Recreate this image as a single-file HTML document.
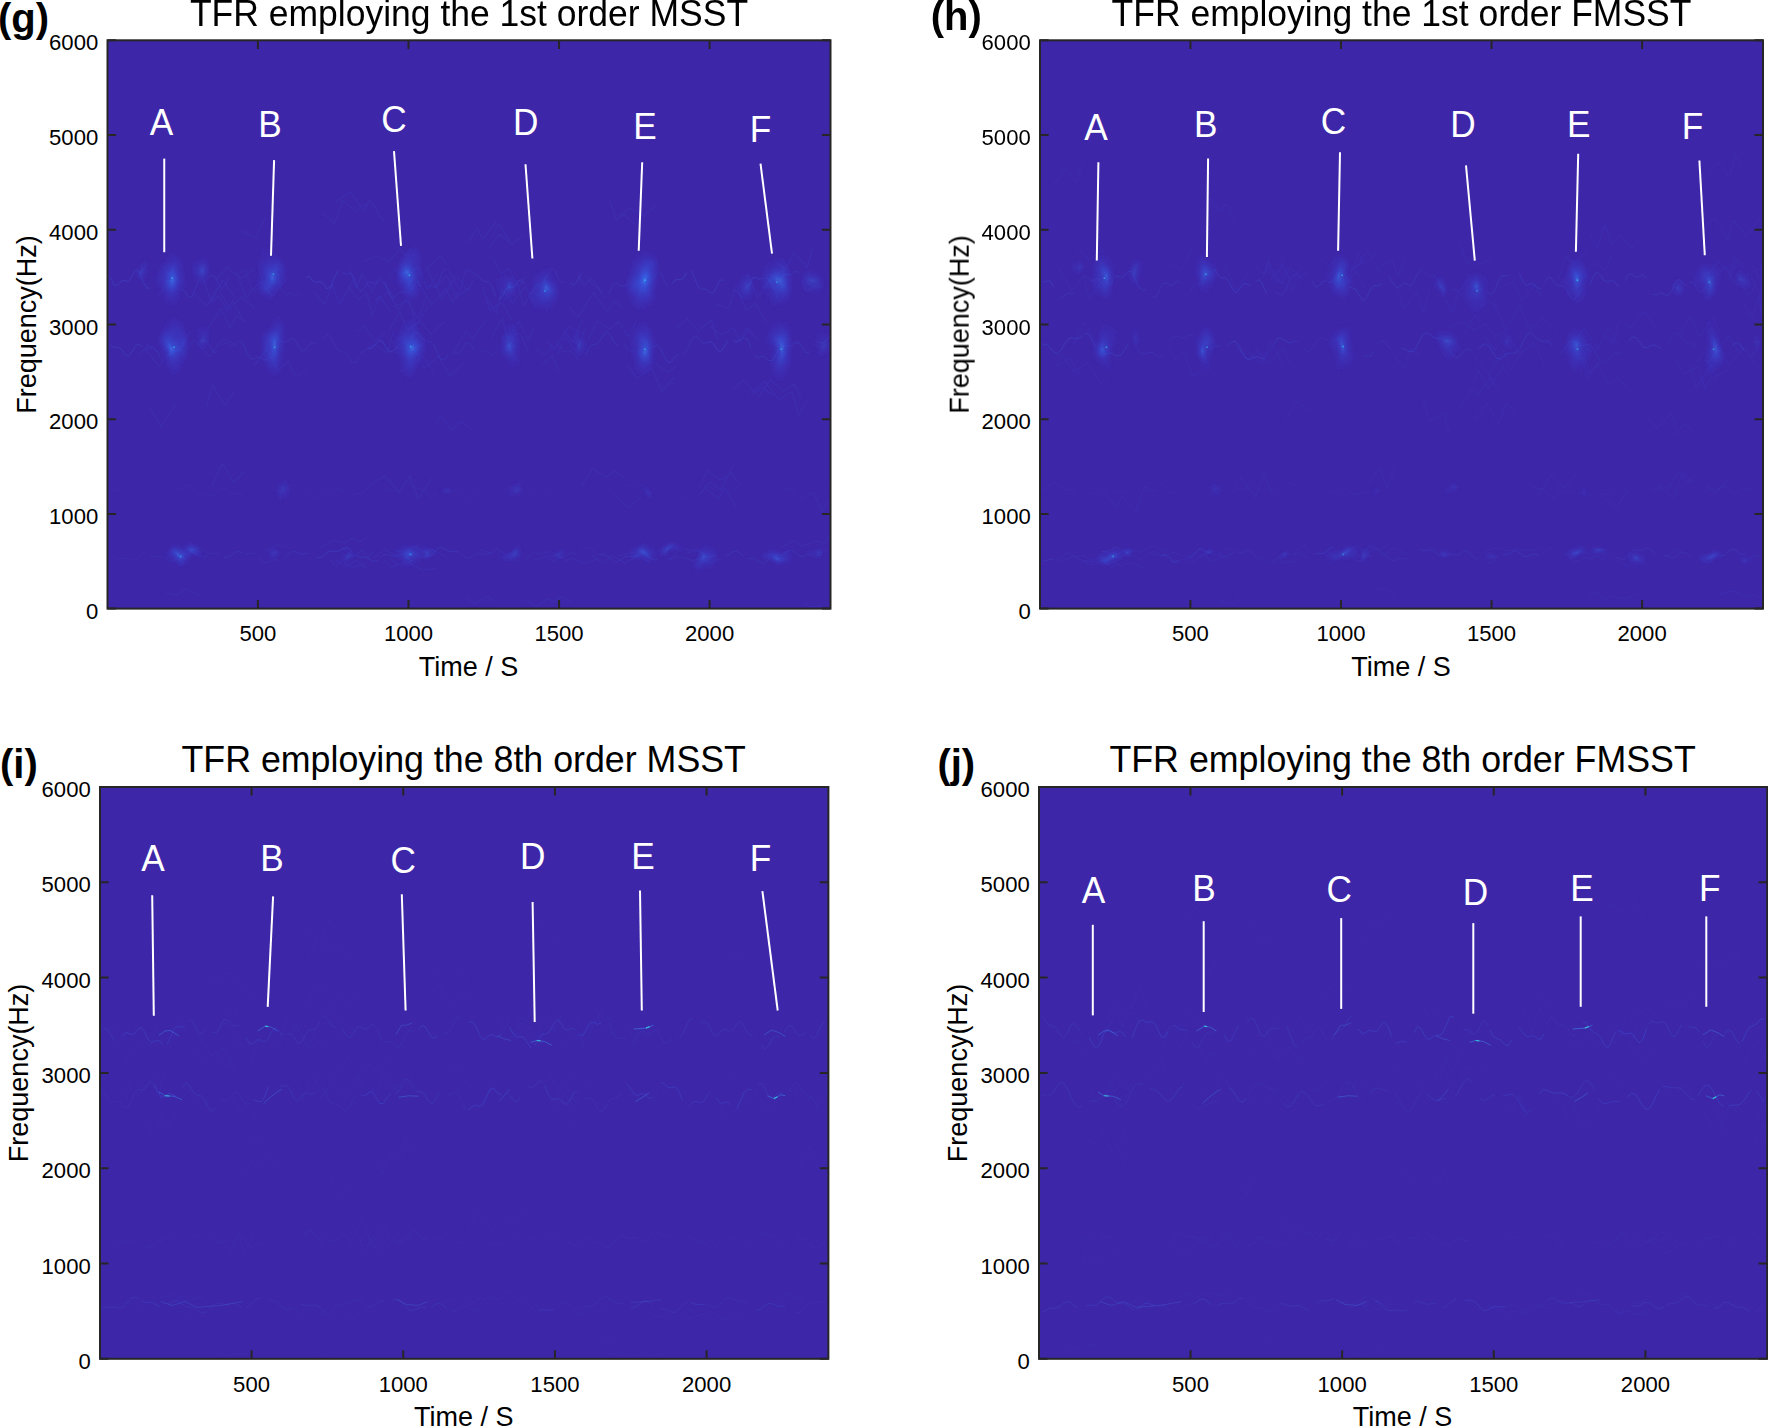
<!DOCTYPE html>
<html lang="en">
<head>
<meta charset="utf-8">
<title>TFR comparison</title>
<style>
html,body{margin:0;padding:0;background:#fff;}
body{width:1768px;height:1428px;overflow:hidden;position:relative;}
svg{position:absolute;left:0;top:0;display:block;}
text{font-family:"Liberation Sans", Arial, sans-serif;}
.tk{font-size:22.1px;fill:#000;}
.lb{font-size:27px;fill:#000;}
.tt{font-size:35.6px;fill:#000;}
.pn{font-size:40px;font-weight:bold;fill:#000;}
.lt{font-size:35.2px;fill:#fff;}
.wl{stroke:#fff;stroke-width:2;stroke-linecap:butt;}
.fr{fill:none;stroke:#262626;stroke-width:2.0;}
.tc{stroke:#262626;stroke-width:2.0;}
</style>
</head>
<body>
<svg width="1768" height="1428" viewBox="0 0 1768 1428">
<defs>
<radialGradient id="gb"><stop offset="0" stop-color="#3d80f3" stop-opacity="0.9"/><stop offset="0.18" stop-color="#3565ec" stop-opacity="0.75"/><stop offset="0.5" stop-color="#384fde" stop-opacity="0.45"/><stop offset="1" stop-color="#3e3ad0" stop-opacity="0"/></radialGradient>
<filter id="rough" x="-5%" y="-5%" width="110%" height="110%"><feTurbulence type="fractalNoise" baseFrequency="0.045 0.03" numOctaves="2" seed="7" result="n"/><feDisplacementMap in="SourceGraphic" in2="n" scale="16" xChannelSelector="R" yChannelSelector="G"/></filter>
</defs>

<g id="panel-g">
<rect x="107.5" y="40.3" width="723" height="568.3" fill="#3e26a8"/>
<clipPath id="cp-g"><rect x="107.5" y="40.3" width="723" height="568.3"/></clipPath>
<g clip-path="url(#cp-g)">
<path d="M434.9 284.2L442.1 299.6L453.5 278.9L459.9 290.3L466.2 269.3L478.3 275.8M578.1 275.8L584.1 285.0L591.8 278.8L601.7 292.8M568.4 306.2L578.2 317.2L593.3 292.6L606.8 311.7L615.2 301.7L623.4 308.7M715.0 303.2L728.6 308.9L736.0 285.9L746.0 310.2L755.2 303.1L766.7 323.5M349.7 269.1L356.4 288.2L362.0 273.7L372.1 292.3L379.3 277.0L394.2 297.2M394.0 306.4L409.0 300.4L416.2 324.9L427.5 308.3M427.2 268.4L440.6 255.4L446.7 265.0M375.4 300.2L388.8 291.9L398.0 309.5L406.4 299.5L417.7 318.9L424.6 301.3M389.3 276.7L395.1 269.0L405.5 279.5L418.0 266.4L427.5 289.2L437.7 273.7M203.2 278.9L211.3 302.0L218.7 296.0L226.7 310.1L232.7 301.1L241.7 317.6M746.5 274.1L757.6 297.3L767.6 284.8L776.0 291.1L787.2 284.0M210.5 302.7L223.0 280.0L235.5 299.0M363.4 262.1L377.9 255.8L388.2 261.8L400.0 248.9L405.5 256.0L411.8 248.1M348.0 284.8L358.4 300.2L366.8 292.8L372.5 316.7L379.0 296.2L390.7 311.1M215.2 280.9L226.9 266.9L240.9 278.7L252.8 269.3M763.1 287.5L770.5 279.3L779.3 301.9L785.1 295.0M193.6 292.9L207.0 305.8L217.4 287.4L229.7 309.0L241.2 297.3L254.6 308.2M313.1 291.2L324.7 304.6L332.0 284.3L340.0 304.8L353.0 280.5M493.9 259.2L501.2 273.9L508.3 268.0L518.3 287.3L525.4 276.4M483.2 287.1L489.5 310.4L501.9 302.3L511.6 319.8M517.6 283.6L524.0 305.7L537.1 282.5L543.7 292.8L552.9 285.4M775.9 261.6L784.7 268.9L794.3 252.8L807.2 267.7L812.9 246.7M236.2 272.6L246.2 297.3L260.3 281.8L272.2 295.8L286.1 279.1M425.6 265.5L436.1 287.2L446.9 275.6L456.0 297.3L470.1 287.7M485.9 296.6L496.2 313.7L501.9 289.7L512.3 302.9L525.4 286.6L535.6 305.4M407.4 293.2L417.6 281.1L431.7 304.5L446.0 288.9L452.4 302.5L458.2 291.9M138.7 357.2L147.2 344.8L158.6 352.4L171.1 344.4M253.9 366.1L267.3 348.7L277.9 370.8L288.4 360.9L295.9 376.9L307.0 368.6M360.4 353.3L374.4 343.9L387.3 353.3L393.7 330.8M389.0 330.8L399.7 311.8L407.0 329.4L420.2 321.9L431.1 334.3L444.4 321.8M357.5 332.1L363.9 325.7L374.7 341.1L385.6 332.7M710.5 326.7L721.5 334.9L733.5 327.8L739.8 340.9L749.3 328.5M563.9 330.3L573.3 342.8L582.3 319.6M676.5 328.2L687.4 318.9L698.4 331.0L711.2 320.0L717.7 339.8M208.0 328.7L220.9 308.6L230.2 327.9L236.3 315.8L246.2 321.7M556.8 355.2L565.5 337.0L576.4 352.8L585.6 328.2M654.7 362.1L667.2 372.6L676.5 366.0M183.3 355.1L194.1 339.8L208.8 356.2L223.8 338.4L237.0 345.6M145.4 350.3L159.1 366.2L170.3 352.4L180.5 363.5M490.3 338.5L502.1 318.7L507.8 339.0L518.9 321.3L528.2 340.0L534.2 328.3M627.2 363.9L636.8 378.6L651.6 368.3L662.0 391.7L674.4 377.2M542.3 364.9L552.2 355.3L558.1 371.0M588.0 340.9L596.9 321.1L610.2 329.4L618.4 321.3L628.5 336.5L636.9 321.2M546.7 339.5L554.0 349.9L568.8 326.9L582.7 333.3M415.5 362.6L421.7 355.3L433.6 371.4M453.5 352.3L466.1 330.8L472.2 338.7L485.4 321.2M414.9 350.1L423.9 368.1L438.9 356.3L449.6 376.1L463.9 362.3M735.3 343.4L746.2 328.5L758.2 339.9M264.9 551.3L277.3 544.7L285.5 547.6M373.8 557.6L384.7 549.6L399.1 557.6M330.0 559.4L336.2 566.8L341.8 560.4L352.9 567.6L365.4 563.2M533.5 560.1L547.4 556.3L553.0 561.7L563.7 555.9M685.0 553.2L698.0 550.7L704.2 557.5M564.0 561.5L571.8 558.0L584.6 563.5L597.4 558.9M591.2 554.8L603.5 562.9L612.8 555.4L624.7 563.1L637.9 555.5L651.8 563.9M618.0 555.9L632.2 552.3L639.2 558.5M390.0 558.5L400.0 565.3L408.4 562.3L422.6 570.3L435.3 568.2M335.5 560.0L346.6 566.0L356.5 560.6L366.2 568.5M779.5 548.6L793.5 540.5L802.2 546.2L816.8 541.0L824.4 543.3L828.5 536.0M479.9 549.7L491.7 553.3L497.2 548.1L506.2 555.4L518.5 549.4M342.1 547.7L353.6 556.2L361.6 550.7L368.5 557.8L373.9 550.4M171.9 552.7L185.9 559.2L192.2 552.3L202.8 557.6L208.4 554.4M668.7 559.6L679.2 556.5L692.6 560.6L701.0 558.1L709.4 563.2L721.7 558.8M393.5 550.4L405.3 552.5L414.3 545.8L422.0 551.5L431.9 549.5L446.8 556.7M319.7 547.2L334.4 540.2L345.1 542.7L352.4 538.2L358.8 542.3L366.9 537.2M385.2 560.7L391.8 566.9L399.0 563.6M613.6 494.3L628.6 508.2L641.4 496.1M212.2 486.2L222.3 463.0L233.7 482.5L245.0 470.8M813.8 493.8L822.5 511.8L828.5 499.0M699.8 493.9L710.5 481.6L720.7 489.9L733.0 465.6M707.1 489.2L718.6 498.6L724.8 488.3L735.8 507.2M370.1 484.4L384.9 476.1L399.0 492.1L409.8 475.8L417.8 498.7L432.8 477.6M699.4 487.4L707.2 470.9L720.6 480.0L731.3 472.9L737.0 482.0M581.2 486.3L592.6 468.5L605.4 477.2L614.8 470.9L625.3 478.8M206.8 405.8L212.7 385.3L225.1 405.9L234.4 390.8M750.6 395.4L764.6 380.9L778.7 399.7L792.1 391.8L798.6 415.2L807.2 399.7M758.1 396.9L770.6 379.9L783.3 391.3L794.4 384.3L801.0 398.5M150.3 408.2L161.0 426.3L175.5 404.0M732.7 388.9L743.5 380.1L755.2 393.7L761.8 386.7L772.2 394.8M435.4 424.2L441.1 415.3L450.7 429.5L461.3 421.2L473.4 431.2M336.4 201.5L350.3 191.9L363.9 210.7L369.9 199.1L383.6 221.8M609.4 198.2L616.6 220.5L622.5 212.8L634.9 224.5M620.2 217.0L629.6 208.1L643.3 216.0L655.4 205.3M323.3 213.4L334.4 223.4L342.8 200.2L354.6 211.1L366.2 203.7M488.8 248.0L499.4 234.3L510.3 243.1M240.8 231.0L255.8 237.3L265.6 217.4M468.6 242.6L477.1 227.8L482.9 239.0L496.3 221.3M491.2 238.1L498.9 224.0L511.8 244.6L524.8 234.5M525.6 599.8L536.8 606.5L547.7 598.8L554.9 601.8L560.5 596.5L570.1 601.4M164.9 592.8L176.3 595.2L185.9 588.6L199.2 595.5M467.5 597.1L474.5 603.7L487.9 596.5L493.9 601.2M803.1 602.8L809.9 606.7L822.5 605.6" fill="none" stroke="#3c5ee6" stroke-width="1.1" stroke-linejoin="round" opacity="0.15"/>
<polyline points="110.4,277.2 114.0,285.1 117.6,285.1 121.2,281.1 124.8,280.6 128.4,281.3 132.0,276.5 135.7,270.0 139.3,271.8 142.9,281.2 146.5,287.8 150.1,288.4" fill="none" stroke="#3b6ff0" stroke-width="1" stroke-linejoin="round" opacity="0.23"/>
<polyline points="157.9,294.9 161.5,293.2 165.2,284.7 168.8,279.7 172.4,283.4 176.0,288.7" fill="none" stroke="#3b6ff0" stroke-width="1" stroke-linejoin="round" opacity="0.14"/>
<polyline points="181.0,288.9 184.7,291.2 188.3,297.0 191.9,296.8 195.5,287.7 199.1,279.0" fill="none" stroke="#3b6ff0" stroke-width="1" stroke-linejoin="round" opacity="0.18"/>
<polyline points="207.4,278.4 211.0,275.4 214.6,276.2 218.2,283.7 221.8,288.9 225.5,284.7 229.1,277.4" fill="none" stroke="#3b6ff0" stroke-width="1" stroke-linejoin="round" opacity="0.15"/>
<polyline points="237.8,275.1 241.4,271.0 245.0,271.0 248.6,279.8 252.2,289.3 255.9,290.7 259.5,287.7 263.1,288.1 266.7,289.4" fill="none" stroke="#3b6ff0" stroke-width="1" stroke-linejoin="round" opacity="0.10"/>
<polyline points="271.3,283.1 274.9,278.1 278.5,282.2 282.1,291.1 285.7,294.8 289.3,293.3 292.9,294.1 296.6,296.3 300.2,291.9" fill="none" stroke="#3b6ff0" stroke-width="1" stroke-linejoin="round" opacity="0.10"/>
<polyline points="305.5,277.6 309.1,276.3 312.7,281.0 316.3,282.6 319.9,281.2 323.5,283.7 327.1,288.8 330.7,287.1 334.4,277.6 338.0,270.8" fill="none" stroke="#3b6ff0" stroke-width="1" stroke-linejoin="round" opacity="0.25"/>
<polyline points="342.9,272.9 346.5,274.0 350.1,273.0 353.7,277.3 357.3,286.9 360.9,291.8 364.5,287.4 368.2,282.1 371.8,282.4 375.4,283.5 379.0,280.4" fill="none" stroke="#3b6ff0" stroke-width="1" stroke-linejoin="round" opacity="0.18"/>
<polyline points="384.6,282.2 388.2,292.3 391.8,298.6 395.4,296.3 399.0,292.4 402.6,292.2 406.2,290.3 409.9,282.5 413.5,276.5 417.1,279.8 420.7,287.2" fill="none" stroke="#3b6ff0" stroke-width="1" stroke-linejoin="round" opacity="0.16"/>
<polyline points="427.9,286.1 431.5,286.1 435.1,287.4 438.7,282.1 442.3,272.0 445.9,267.7" fill="none" stroke="#3b6ff0" stroke-width="1" stroke-linejoin="round" opacity="0.16"/>
<polyline points="447.8,269.3 451.4,275.3 455.0,277.8 458.6,278.1 462.2,282.8 465.9,289.1 469.5,287.8 473.1,279.7" fill="none" stroke="#3b6ff0" stroke-width="1" stroke-linejoin="round" opacity="0.12"/>
<polyline points="477.9,275.8 481.5,280.0 485.1,281.9 488.8,281.9 492.4,287.2 496.0,296.7" fill="none" stroke="#3b6ff0" stroke-width="1" stroke-linejoin="round" opacity="0.18"/>
<polyline points="498.7,300.1 502.4,295.8 506.0,288.8 509.6,287.1 513.2,287.2 516.8,283.1 520.4,279.5 524.0,284.1" fill="none" stroke="#3b6ff0" stroke-width="1" stroke-linejoin="round" opacity="0.27"/>
<polyline points="529.4,294.5 533.0,291.8 536.6,285.9 540.2,284.0 543.8,282.4 547.4,275.3 551.0,268.3 554.7,270.4 558.3,278.7 561.9,282.9 565.5,281.5" fill="none" stroke="#3b6ff0" stroke-width="1" stroke-linejoin="round" opacity="0.13"/>
<polyline points="570.3,283.1 573.9,285.5 577.5,281.0 581.1,272.8" fill="none" stroke="#3b6ff0" stroke-width="1" stroke-linejoin="round" opacity="0.22"/>
<polyline points="587.2,276.2 590.8,283.3 594.5,285.5 598.1,287.4 601.7,293.8 605.3,298.4" fill="none" stroke="#3b6ff0" stroke-width="1" stroke-linejoin="round" opacity="0.10"/>
<polyline points="608.9,293.7 612.5,284.9 616.1,282.4 619.8,285.5 623.4,286.2 627.0,284.7" fill="none" stroke="#3b6ff0" stroke-width="1" stroke-linejoin="round" opacity="0.16"/>
<polyline points="635.8,297.6 639.4,294.4 643.0,285.3 646.7,280.3 650.3,279.7 653.9,276.5 657.5,271.5 661.1,273.2 664.7,281.9 668.3,287.1" fill="none" stroke="#3b6ff0" stroke-width="1" stroke-linejoin="round" opacity="0.14"/>
<polyline points="672.1,283.6 675.7,279.5 679.3,279.7 683.0,278.7 686.6,272.7" fill="none" stroke="#3b6ff0" stroke-width="1" stroke-linejoin="round" opacity="0.26"/>
<polyline points="691.5,270.4 695.1,279.3 698.7,287.7 702.3,289.1 705.9,288.9 709.6,292.3 713.2,293.4 716.8,287.0 720.4,279.7 724.0,280.9" fill="none" stroke="#3b6ff0" stroke-width="1" stroke-linejoin="round" opacity="0.22"/>
<polyline points="733.4,290.5 737.0,291.4 740.6,296.3 744.3,297.4" fill="none" stroke="#3b6ff0" stroke-width="1" stroke-linejoin="round" opacity="0.15"/>
<polyline points="749.0,285.9 752.6,277.7 756.2,277.6 759.8,279.4 763.4,277.5" fill="none" stroke="#3b6ff0" stroke-width="1" stroke-linejoin="round" opacity="0.25"/>
<polyline points="766.0,276.6 769.6,281.0 773.2,288.2 776.8,287.8 780.4,279.9 784.0,274.2 787.6,274.6 791.3,274.2 794.9,270.9 798.5,272.3" fill="none" stroke="#3b6ff0" stroke-width="1" stroke-linejoin="round" opacity="0.19"/>
<polyline points="801.6,280.3 805.2,289.7 808.9,290.8 812.5,286.9 816.1,286.3 819.7,287.6 823.3,284.0" fill="none" stroke="#3b6ff0" stroke-width="1" stroke-linejoin="round" opacity="0.14"/>
<polyline points="110.4,345.0 114.0,347.5 117.6,347.0 121.2,349.2 124.8,354.4 128.4,356.4 132.0,351.8 135.7,345.4 139.3,344.0 142.9,347.3" fill="none" stroke="#3b6ff0" stroke-width="1" stroke-linejoin="round" opacity="0.21"/>
<polyline points="145.4,349.2 149.0,348.4 152.6,346.7 156.2,349.8 159.8,357.1 163.4,361.5" fill="none" stroke="#3b6ff0" stroke-width="1" stroke-linejoin="round" opacity="0.14"/>
<polyline points="168.9,356.0 172.6,351.8 176.2,351.3 179.8,350.0 183.4,343.6 187.0,335.4 190.6,332.4" fill="none" stroke="#3b6ff0" stroke-width="1" stroke-linejoin="round" opacity="0.16"/>
<polyline points="199.7,341.3 203.3,340.4 206.9,341.5 210.5,347.2 214.2,352.7 217.8,351.8" fill="none" stroke="#3b6ff0" stroke-width="1" stroke-linejoin="round" opacity="0.15"/>
<polyline points="221.2,346.4 224.8,342.6 228.4,343.8 232.0,345.9 235.6,344.1 239.2,341.1" fill="none" stroke="#3b6ff0" stroke-width="1" stroke-linejoin="round" opacity="0.10"/>
<polyline points="239.9,341.0 243.5,344.4 247.1,352.8 250.7,358.9 254.3,358.9 257.9,356.9 261.6,358.0 265.2,360.2 268.8,357.4" fill="none" stroke="#3b6ff0" stroke-width="1" stroke-linejoin="round" opacity="0.19"/>
<polyline points="277.0,340.3 280.6,340.4 284.2,342.4 287.8,341.0 291.5,338.2 295.1,339.9 298.7,346.5 302.3,351.3 305.9,349.4 309.5,344.4 313.1,342.6 316.7,344.2" fill="none" stroke="#3b6ff0" stroke-width="1" stroke-linejoin="round" opacity="0.15"/>
<polyline points="323.5,339.3 327.1,334.8 330.7,336.7 334.3,344.2 337.9,350.3 341.5,351.7 345.1,352.4 348.8,357.1 352.4,362.7 356.0,362.7 359.6,356.2" fill="none" stroke="#3b6ff0" stroke-width="1" stroke-linejoin="round" opacity="0.13"/>
<polyline points="368.4,348.5 372.0,348.3 375.6,344.2 379.2,340.1 382.8,341.8 386.4,348.3 390.1,352.3 393.7,350.3 397.3,346.6" fill="none" stroke="#3b6ff0" stroke-width="1" stroke-linejoin="round" opacity="0.26"/>
<polyline points="407.0,346.8 410.6,340.2 414.3,333.2 417.9,332.3 421.5,337.0 425.1,340.9" fill="none" stroke="#3b6ff0" stroke-width="1" stroke-linejoin="round" opacity="0.21"/>
<polyline points="426.8,341.3 430.4,341.3 434.0,345.0 437.7,353.3 441.3,359.7 444.9,359.1 448.5,354.4" fill="none" stroke="#3b6ff0" stroke-width="1" stroke-linejoin="round" opacity="0.16"/>
<polyline points="452.2,352.3 455.8,353.6 459.4,352.9 463.0,347.5 466.6,342.5 470.3,343.9 473.9,350.0" fill="none" stroke="#3b6ff0" stroke-width="1" stroke-linejoin="round" opacity="0.15"/>
<polyline points="479.5,353.3 483.1,350.9 486.8,351.1 490.4,354.3 494.0,354.3 497.6,347.7" fill="none" stroke="#3b6ff0" stroke-width="1" stroke-linejoin="round" opacity="0.12"/>
<polyline points="503.0,336.4 506.6,335.8 510.3,337.4 513.9,336.0 517.5,333.4 521.1,335.5 524.7,343.6 528.3,351.2" fill="none" stroke="#3b6ff0" stroke-width="1" stroke-linejoin="round" opacity="0.12"/>
<polyline points="534.4,351.1 538.0,350.1 541.6,352.7 545.2,354.5 548.8,350.8 552.5,344.3" fill="none" stroke="#3b6ff0" stroke-width="1" stroke-linejoin="round" opacity="0.11"/>
<polyline points="556.2,342.4 559.8,346.8 563.5,351.5 567.1,351.9 570.7,350.9 574.3,353.9 577.9,359.7" fill="none" stroke="#3b6ff0" stroke-width="1" stroke-linejoin="round" opacity="0.12"/>
<polyline points="585.4,355.2 589.0,347.8 592.6,344.7 596.2,344.2 599.8,340.9 603.4,334.6 607.1,331.5 610.7,335.7 614.3,342.7 617.9,345.8" fill="none" stroke="#3b6ff0" stroke-width="1" stroke-linejoin="round" opacity="0.19"/>
<polyline points="623.8,344.6 627.4,347.8 631.0,352.2 634.7,351.4" fill="none" stroke="#3b6ff0" stroke-width="1" stroke-linejoin="round" opacity="0.16"/>
<polyline points="639.3,343.3 642.9,340.0 646.5,342.8 650.1,346.5" fill="none" stroke="#3b6ff0" stroke-width="1" stroke-linejoin="round" opacity="0.17"/>
<polyline points="653.6,346.5 657.3,345.5 660.9,349.1 664.5,357.2 668.1,362.8 671.7,361.3 675.3,356.5 678.9,354.5" fill="none" stroke="#3b6ff0" stroke-width="1" stroke-linejoin="round" opacity="0.20"/>
<polyline points="684.1,354.2 687.8,348.6 691.4,340.1 695.0,335.9 698.6,338.6 702.2,342.8 705.8,343.1" fill="none" stroke="#3b6ff0" stroke-width="1" stroke-linejoin="round" opacity="0.14"/>
<polyline points="706.2,342.9 709.8,341.3 713.4,343.8 717.0,349.5 720.6,351.7 724.2,347.1 727.8,340.9" fill="none" stroke="#3b6ff0" stroke-width="1" stroke-linejoin="round" opacity="0.25"/>
<polyline points="732.9,340.0 736.5,342.0 740.2,340.5 743.8,337.5 747.4,339.3 751.0,347.4" fill="none" stroke="#3b6ff0" stroke-width="1" stroke-linejoin="round" opacity="0.21"/>
<polyline points="754.3,354.9 757.9,357.8 761.5,356.5 765.1,357.1 768.7,360.4 772.3,360.8 775.9,354.6 779.5,346.4" fill="none" stroke="#3b6ff0" stroke-width="1" stroke-linejoin="round" opacity="0.20"/>
<polyline points="787.6,345.6 791.2,345.9 794.8,343.0 798.5,342.1 802.1,346.8 805.7,352.6 809.3,352.7" fill="none" stroke="#3b6ff0" stroke-width="1" stroke-linejoin="round" opacity="0.20"/>
<polyline points="817.7,342.4 821.3,343.0 824.9,342.0 828.5,336.5" fill="none" stroke="#3b6ff0" stroke-width="1" stroke-linejoin="round" opacity="0.20"/>
<polyline points="110.4,552.6 114.0,556.9 117.6,559.2 121.2,558.7 124.8,557.9 128.4,558.7 132.0,560.1 135.7,559.4 139.3,556.4 142.9,553.5 146.5,553.5" fill="none" stroke="#3b6ff0" stroke-width="1" stroke-linejoin="round" opacity="0.08"/>
<polyline points="150.8,556.0 154.4,557.2 158.0,556.5 161.7,556.3 165.3,558.2 168.9,560.9 172.5,561.5 176.1,559.0" fill="none" stroke="#3b6ff0" stroke-width="1" stroke-linejoin="round" opacity="0.12"/>
<polyline points="180.8,554.9 184.5,553.9 188.1,553.7 191.7,552.0 195.3,548.9 198.9,547.1 202.5,548.4 206.1,551.7 209.8,553.8 213.4,553.7 217.0,553.4 220.6,554.9" fill="none" stroke="#3b6ff0" stroke-width="1" stroke-linejoin="round" opacity="0.10"/>
<polyline points="223.8,557.0 227.4,557.8 231.0,555.6 234.6,552.5 238.2,551.4 241.8,552.8" fill="none" stroke="#3b6ff0" stroke-width="1" stroke-linejoin="round" opacity="0.17"/>
<polyline points="244.5,553.9 248.1,554.0 251.7,553.2 255.3,554.0" fill="none" stroke="#3b6ff0" stroke-width="1" stroke-linejoin="round" opacity="0.15"/>
<polyline points="259.5,558.1 263.1,561.7 266.7,562.5 270.3,560.9 273.9,559.7 277.6,560.1" fill="none" stroke="#3b6ff0" stroke-width="1" stroke-linejoin="round" opacity="0.14"/>
<polyline points="283.6,559.0 287.2,555.3 290.9,551.9 294.5,551.3 298.1,553.0 301.7,554.3 305.3,553.7 308.9,552.9" fill="none" stroke="#3b6ff0" stroke-width="1" stroke-linejoin="round" opacity="0.16"/>
<polyline points="316.4,557.0 320.0,557.9 323.6,555.9 327.2,552.6 330.9,551.1 334.5,551.4 338.1,551.4 341.7,549.6 345.3,547.7 348.9,548.5 352.5,552.1" fill="none" stroke="#3b6ff0" stroke-width="1" stroke-linejoin="round" opacity="0.21"/>
<polyline points="356.0,555.6 359.6,557.1 363.2,556.9 366.8,557.6 370.4,559.9 374.1,561.5 377.7,560.1" fill="none" stroke="#3b6ff0" stroke-width="1" stroke-linejoin="round" opacity="0.20"/>
<polyline points="380.8,557.2 384.4,554.6 388.1,554.7 391.7,556.0 395.3,556.2 398.9,554.9 402.5,554.6 406.1,556.8 409.7,560.1 413.4,561.3" fill="none" stroke="#3b6ff0" stroke-width="1" stroke-linejoin="round" opacity="0.17"/>
<polyline points="419.6,557.7 423.2,556.3 426.8,556.4 430.4,555.6 434.1,552.4 437.7,548.6 441.3,547.3 444.9,549.0 448.5,551.2 452.1,551.8 455.7,551.4 459.4,552.4" fill="none" stroke="#3b6ff0" stroke-width="1" stroke-linejoin="round" opacity="0.19"/>
<polyline points="461.9,554.4 465.5,557.5 469.1,558.1 472.7,555.9 476.3,553.4 479.9,553.1 483.6,554.2 487.2,554.2 490.8,552.6" fill="none" stroke="#3b6ff0" stroke-width="1" stroke-linejoin="round" opacity="0.14"/>
<polyline points="496.9,552.6 500.5,556.2 504.1,559.8 507.7,560.8 511.3,560.1 515.0,560.1 518.6,561.5" fill="none" stroke="#3b6ff0" stroke-width="1" stroke-linejoin="round" opacity="0.12"/>
<polyline points="525.7,560.1 529.3,555.9 532.9,553.0 536.5,552.8 540.1,553.7 543.8,553.3 547.4,551.8 551.0,551.5" fill="none" stroke="#3b6ff0" stroke-width="1" stroke-linejoin="round" opacity="0.11"/>
<polyline points="555.7,554.8 559.3,557.4 562.9,557.2 566.5,554.9 570.2,553.1 573.8,553.3 577.4,553.5" fill="none" stroke="#3b6ff0" stroke-width="1" stroke-linejoin="round" opacity="0.10"/>
<polyline points="581.4,551.4 585.0,548.3 588.6,547.3 592.2,549.4 595.8,552.7" fill="none" stroke="#3b6ff0" stroke-width="1" stroke-linejoin="round" opacity="0.08"/>
<polyline points="597.8,553.9 601.4,554.6 605.0,554.9 608.6,557.0 612.2,560.3" fill="none" stroke="#3b6ff0" stroke-width="1" stroke-linejoin="round" opacity="0.17"/>
<polyline points="613.7,561.4 617.3,561.7 621.0,559.3 624.6,556.6 628.2,556.2 631.8,556.9 635.4,556.5 639.0,554.5" fill="none" stroke="#3b6ff0" stroke-width="1" stroke-linejoin="round" opacity="0.18"/>
<polyline points="643.0,553.2 646.6,555.0 650.2,558.3 653.8,560.1 657.4,559.3" fill="none" stroke="#3b6ff0" stroke-width="1" stroke-linejoin="round" opacity="0.20"/>
<polyline points="666.5,558.3 670.1,558.4 673.7,555.9 677.3,551.7" fill="none" stroke="#3b6ff0" stroke-width="1" stroke-linejoin="round" opacity="0.11"/>
<polyline points="683.9,548.6 687.6,550.0 691.2,550.5 694.8,549.6 698.4,549.6 702.0,552.1 705.6,555.9 709.2,557.7 712.9,556.6 716.5,554.8" fill="none" stroke="#3b6ff0" stroke-width="1" stroke-linejoin="round" opacity="0.13"/>
<polyline points="725.4,555.8 729.0,554.6 732.6,552.0 736.2,551.0 739.8,553.1 743.4,556.5" fill="none" stroke="#3b6ff0" stroke-width="1" stroke-linejoin="round" opacity="0.18"/>
<polyline points="747.5,558.5 751.1,558.4 754.7,558.9 758.3,561.1 761.9,563.2 765.5,562.6 769.1,559.1" fill="none" stroke="#3b6ff0" stroke-width="1" stroke-linejoin="round" opacity="0.18"/>
<polyline points="775.9,554.7 779.5,554.9 783.1,554.2 786.7,551.9 790.3,550.2 794.0,551.2 797.6,554.4 801.2,556.5 804.8,556.0 808.4,554.4 812.0,554.2" fill="none" stroke="#3b6ff0" stroke-width="1" stroke-linejoin="round" opacity="0.16"/>
<polyline points="816.1,555.4 819.7,555.0 823.3,552.0 826.9,548.7" fill="none" stroke="#3b6ff0" stroke-width="1" stroke-linejoin="round" opacity="0.16"/>
<polyline points="110.4,490.1 114.0,491.1 117.6,490.2 121.2,489.9" fill="none" stroke="#3b6ff0" stroke-width="1" stroke-linejoin="round" opacity="0.07"/>
<polyline points="129.9,496.3 133.5,493.9 137.1,489.2 140.7,486.5 144.4,486.3 148.0,485.5 151.6,483.2 155.2,482.8 158.8,486.4 162.4,490.9 166.0,492.0 169.7,489.9" fill="none" stroke="#3b6ff0" stroke-width="1" stroke-linejoin="round" opacity="0.04"/>
<polyline points="176.3,488.6 180.0,488.8 183.6,486.5 187.2,484.2 190.8,485.9 194.4,491.1 198.0,495.0" fill="none" stroke="#3b6ff0" stroke-width="1" stroke-linejoin="round" opacity="0.07"/>
<polyline points="204.0,494.8 207.6,495.2 211.2,496.5 214.8,495.2 218.5,490.9 222.1,487.8 225.7,489.0 229.3,492.4 232.9,493.8 236.5,493.1 240.1,493.5 243.8,495.3" fill="none" stroke="#3b6ff0" stroke-width="1" stroke-linejoin="round" opacity="0.09"/>
<polyline points="244.5,495.6 248.1,494.5 251.7,489.5 255.4,484.8 259.0,484.0 262.6,485.6 266.2,486.2 269.8,485.5 273.4,486.9 277.0,490.6" fill="none" stroke="#3b6ff0" stroke-width="1" stroke-linejoin="round" opacity="0.04"/>
<polyline points="278.4,491.8 282.0,492.4 285.6,488.9 289.2,485.4 292.8,485.1 296.4,486.4" fill="none" stroke="#3b6ff0" stroke-width="1" stroke-linejoin="round" opacity="0.08"/>
<polyline points="306.5,487.3 310.1,492.3 313.7,496.7 317.3,496.8 321.0,494.1" fill="none" stroke="#3b6ff0" stroke-width="1" stroke-linejoin="round" opacity="0.05"/>
<polyline points="322.4,493.3 326.0,492.8 329.6,493.1 333.2,491.3 336.8,488.6 340.4,488.9 344.0,493.0 347.7,496.7" fill="none" stroke="#3b6ff0" stroke-width="1" stroke-linejoin="round" opacity="0.06"/>
<polyline points="353.6,495.1 357.2,493.5 360.8,493.4 364.4,492.0 368.0,487.7 371.6,483.5" fill="none" stroke="#3b6ff0" stroke-width="1" stroke-linejoin="round" opacity="0.08"/>
<polyline points="381.2,488.9 384.8,489.3 388.5,488.6 392.1,489.7 395.7,491.3 399.3,489.8" fill="none" stroke="#3b6ff0" stroke-width="1" stroke-linejoin="round" opacity="0.06"/>
<polyline points="406.5,482.3 410.1,483.6 413.7,486.8 417.3,488.4 420.9,488.9 424.5,491.4 428.1,495.5 431.8,497.0 435.4,494.1 439.0,490.3" fill="none" stroke="#3b6ff0" stroke-width="1" stroke-linejoin="round" opacity="0.09"/>
<polyline points="444.5,490.2 448.1,491.5 451.7,490.9 455.3,490.7 458.9,493.6 462.6,497.8 466.2,498.6 469.8,495.2 473.4,491.4 477.0,490.2" fill="none" stroke="#3b6ff0" stroke-width="1" stroke-linejoin="round" opacity="0.07"/>
<polyline points="483.5,487.8 487.1,484.8 490.7,484.7 494.3,488.5 497.9,492.0" fill="none" stroke="#3b6ff0" stroke-width="1" stroke-linejoin="round" opacity="0.04"/>
<polyline points="500.7,492.2 504.3,489.8 508.0,488.1 511.6,488.3 515.2,487.4 518.8,483.9 522.4,481.4 526.0,483.3 529.6,488.2 533.3,491.4 536.9,491.6 540.5,491.9" fill="none" stroke="#3b6ff0" stroke-width="1" stroke-linejoin="round" opacity="0.05"/>
<polyline points="544.6,494.2 548.2,494.7 551.8,491.5 555.4,487.7 559.0,487.6" fill="none" stroke="#3b6ff0" stroke-width="1" stroke-linejoin="round" opacity="0.05"/>
<polyline points="560.4,488.6 564.0,492.2 567.6,493.9 571.2,493.8 574.8,495.1 578.4,497.9 582.1,498.2 585.7,494.2 589.3,489.2" fill="none" stroke="#3b6ff0" stroke-width="1" stroke-linejoin="round" opacity="0.04"/>
<polyline points="594.2,487.6 597.8,488.7 601.4,488.2 605.0,487.2 608.6,488.8 612.2,492.4" fill="none" stroke="#3b6ff0" stroke-width="1" stroke-linejoin="round" opacity="0.05"/>
<polyline points="618.1,492.1 621.7,487.7 625.3,485.0 628.9,485.1 632.6,484.9 636.2,483.3 639.8,483.0" fill="none" stroke="#3b6ff0" stroke-width="1" stroke-linejoin="round" opacity="0.05"/>
<polyline points="641.5,484.3 645.2,489.3 648.8,493.4 652.4,493.3" fill="none" stroke="#3b6ff0" stroke-width="1" stroke-linejoin="round" opacity="0.09"/>
<polyline points="657.9,490.6 661.5,491.1 665.1,491.3 668.7,489.0" fill="none" stroke="#3b6ff0" stroke-width="1" stroke-linejoin="round" opacity="0.04"/>
<polyline points="675.9,488.5 679.5,493.4 683.1,496.8 686.7,496.7 690.4,495.6 694.0,496.1 697.6,496.2 701.2,493.1 704.8,488.2 708.4,486.1 712.0,488.3 715.7,491.1" fill="none" stroke="#3b6ff0" stroke-width="1" stroke-linejoin="round" opacity="0.05"/>
<polyline points="724.5,490.6 728.1,492.4 731.7,492.9 735.3,489.3 739.0,484.2 742.6,482.1 746.2,483.7 749.8,485.5" fill="none" stroke="#3b6ff0" stroke-width="1" stroke-linejoin="round" opacity="0.06"/>
<polyline points="757.2,486.4 760.8,490.1 764.4,493.8 768.0,493.3 771.7,489.7 775.3,487.2 778.9,488.0" fill="none" stroke="#3b6ff0" stroke-width="1" stroke-linejoin="round" opacity="0.04"/>
<polyline points="785.3,488.9 788.9,488.4 792.5,491.0 796.2,496.0 799.8,499.0 803.4,497.5 807.0,494.4 810.6,493.1 814.2,493.0" fill="none" stroke="#3b6ff0" stroke-width="1" stroke-linejoin="round" opacity="0.07"/>
<polyline points="819.2,489.7 822.8,487.0 826.5,488.2" fill="none" stroke="#3b6ff0" stroke-width="1" stroke-linejoin="round" opacity="0.09"/>
<g filter="url(#rough)">
<ellipse cx="170.89" cy="278.13" rx="15.3" ry="28.9" fill="url(#gb)" opacity="0.8"/>
<ellipse cx="202.5" cy="272.17" rx="11.9" ry="18.7" fill="url(#gb)" opacity="0.44"/>
<ellipse cx="272.37" cy="274.16" rx="13.6" ry="28.9" fill="url(#gb)" opacity="0.72"/>
<ellipse cx="408.47" cy="275.2" rx="15.3" ry="27.2" fill="url(#gb)" opacity="0.8"/>
<ellipse cx="507.85" cy="286.66" rx="10.2" ry="15.3" fill="url(#gb)" opacity="0.44"/>
<ellipse cx="543.68" cy="290.83" rx="17" ry="25.5" fill="url(#gb)" opacity="0.72"/>
<ellipse cx="643.95" cy="280.22" rx="17" ry="30.6" fill="url(#gb)" opacity="0.96"/>
<ellipse cx="746.64" cy="286.66" rx="10.2" ry="15.3" fill="url(#gb)" opacity="0.4"/>
<ellipse cx="775.85" cy="282.21" rx="15.3" ry="25.5" fill="url(#gb)" opacity="0.68"/>
<ellipse cx="811.68" cy="280.22" rx="10.2" ry="17" fill="url(#gb)" opacity="0.36"/>
<ellipse cx="143.48" cy="267.62" rx="8.5" ry="13.6" fill="url(#gb)" opacity="0.28"/>
<ellipse cx="172.99" cy="347.18" rx="13.6" ry="30.6" fill="url(#gb)" opacity="0.8"/>
<ellipse cx="273.57" cy="347.18" rx="13.6" ry="28.9" fill="url(#gb)" opacity="0.72"/>
<ellipse cx="409.68" cy="346.52" rx="15.3" ry="30.6" fill="url(#gb)" opacity="0.8"/>
<ellipse cx="512.06" cy="345.19" rx="11.9" ry="22.1" fill="url(#gb)" opacity="0.56"/>
<ellipse cx="643.95" cy="349.17" rx="15.3" ry="28.9" fill="url(#gb)" opacity="0.76"/>
<ellipse cx="780.06" cy="349.17" rx="13.6" ry="34" fill="url(#gb)" opacity="0.72"/>
<ellipse cx="577.1" cy="344.34" rx="8.5" ry="15.3" fill="url(#gb)" opacity="0.28"/>
<ellipse cx="202.5" cy="338.66" rx="8.5" ry="13.6" fill="url(#gb)" opacity="0.24"/>
<ellipse cx="824.03" cy="343.39" rx="8.5" ry="15.3" fill="url(#gb)" opacity="0.24"/>
<ellipse cx="179.62" cy="556.51" rx="17" ry="10.2" fill="url(#gb)" opacity="0.64"/>
<ellipse cx="194.07" cy="551.58" rx="10.2" ry="8.5" fill="url(#gb)" opacity="0.48"/>
<ellipse cx="409.68" cy="554.42" rx="17" ry="11.9" fill="url(#gb)" opacity="0.64"/>
<ellipse cx="430.76" cy="554.04" rx="11.9" ry="8.5" fill="url(#gb)" opacity="0.4"/>
<ellipse cx="512.06" cy="553" rx="10.2" ry="6.8" fill="url(#gb)" opacity="0.4"/>
<ellipse cx="643.95" cy="551.58" rx="15.3" ry="10.2" fill="url(#gb)" opacity="0.56"/>
<ellipse cx="668.95" cy="550.07" rx="11.9" ry="6.8" fill="url(#gb)" opacity="0.4"/>
<ellipse cx="705.08" cy="558.59" rx="13.6" ry="11.9" fill="url(#gb)" opacity="0.48"/>
<ellipse cx="777.95" cy="555.75" rx="15.3" ry="10.2" fill="url(#gb)" opacity="0.56"/>
<ellipse cx="275.98" cy="552.72" rx="8.5" ry="6.8" fill="url(#gb)" opacity="0.28"/>
<ellipse cx="348.25" cy="553.66" rx="8.5" ry="6.8" fill="url(#gb)" opacity="0.32"/>
<ellipse cx="559.04" cy="554.61" rx="8.5" ry="6.8" fill="url(#gb)" opacity="0.24"/>
<ellipse cx="814.99" cy="555.56" rx="8.5" ry="6.8" fill="url(#gb)" opacity="0.28"/>
<ellipse cx="285.01" cy="491.15" rx="8.5" ry="8.5" fill="url(#gb)" opacity="0.24"/>
<ellipse cx="516.88" cy="491.15" rx="8.5" ry="8.5" fill="url(#gb)" opacity="0.24"/>
<ellipse cx="444.61" cy="488.31" rx="6.8" ry="6.8" fill="url(#gb)" opacity="0.16"/>
<ellipse cx="649.37" cy="490.2" rx="6.8" ry="8.5" fill="url(#gb)" opacity="0.16"/>
</g>
<circle cx="171.89" cy="278.13" r="0.9" fill="#35b8e6" opacity="0.7"/>
<circle cx="273.37" cy="274.16" r="0.9" fill="#35b8e6" opacity="0.63"/>
<circle cx="409.47" cy="275.2" r="0.9" fill="#35b8e6" opacity="0.7"/>
<circle cx="544.68" cy="290.83" r="0.9" fill="#35b8e6" opacity="0.63"/>
<circle cx="644.95" cy="280.22" r="0.9" fill="#35b8e6" opacity="0.84"/>
<circle cx="776.85" cy="282.21" r="0.9" fill="#35b8e6" opacity="0.59"/>
<circle cx="173.99" cy="347.18" r="0.9" fill="#35b8e6" opacity="0.7"/>
<circle cx="274.57" cy="347.18" r="0.9" fill="#35b8e6" opacity="0.63"/>
<circle cx="410.68" cy="346.52" r="0.9" fill="#35b8e6" opacity="0.7"/>
<circle cx="644.95" cy="349.17" r="0.9" fill="#35b8e6" opacity="0.66"/>
<circle cx="781.06" cy="349.17" r="0.9" fill="#35b8e6" opacity="0.63"/>
<circle cx="180.62" cy="556.51" r="0.9" fill="#35b8e6" opacity="0.56"/>
<circle cx="410.68" cy="554.42" r="0.9" fill="#35b8e6" opacity="0.56"/>
</g>
<line class="wl" x1="164.25" y1="158.6" x2="164.25" y2="252.2"/>
<line class="wl" x1="274.1" y1="160.1" x2="271" y2="255.8"/>
<line class="wl" x1="394" y1="151.1" x2="401" y2="245.9"/>
<line class="wl" x1="525.5" y1="164.3" x2="532.4" y2="258.5"/>
<line class="wl" x1="642.2" y1="162.2" x2="638.7" y2="250.7"/>
<line class="wl" x1="760.5" y1="163.7" x2="772" y2="253.7"/>
<text class="lt" transform="translate(161.5 134.7) scale(1 1.04)" text-anchor="middle">A</text>
<text class="lt" transform="translate(270 136.8) scale(1 1.04)" text-anchor="middle">B</text>
<text class="lt" transform="translate(394 132.3) scale(1 1.04)" text-anchor="middle">C</text>
<text class="lt" transform="translate(525.7 134.7) scale(1 1.04)" text-anchor="middle">D</text>
<text class="lt" transform="translate(645 138.9) scale(1 1.04)" text-anchor="middle">E</text>
<text class="lt" transform="translate(760.4 141.6) scale(1 1.04)" text-anchor="middle">F</text>
<path class="tc" d="M257.91 608.6V600M257.91 40.3V48.9M408.47 608.6V600M408.47 40.3V48.9M559.04 608.6V600M559.04 40.3V48.9M709.6 608.6V600M709.6 40.3V48.9M107.5 608.6H116.1M830.5 608.6H821.9M107.5 513.88H116.1M830.5 513.88H821.9M107.5 419.17H116.1M830.5 419.17H821.9M107.5 324.45H116.1M830.5 324.45H821.9M107.5 229.73H116.1M830.5 229.73H821.9M107.5 135.02H116.1M830.5 135.02H821.9M107.5 40.3H116.1M830.5 40.3H821.9"/>
<rect class="fr" x="107.5" y="40.3" width="723" height="568.3"/>
<text class="tk" transform="translate(257.91 641.2) scale(1 1.04)" text-anchor="middle">500</text>
<text class="tk" transform="translate(408.47 641.2) scale(1 1.04)" text-anchor="middle">1000</text>
<text class="tk" transform="translate(559.04 641.2) scale(1 1.04)" text-anchor="middle">1500</text>
<text class="tk" transform="translate(709.6 641.2) scale(1 1.04)" text-anchor="middle">2000</text>
<text class="tk" transform="translate(98.2 618.7) scale(1 1.04)" text-anchor="end">0</text>
<text class="tk" transform="translate(98.2 523.98) scale(1 1.04)" text-anchor="end">1000</text>
<text class="tk" transform="translate(98.2 429.27) scale(1 1.04)" text-anchor="end">2000</text>
<text class="tk" transform="translate(98.2 334.55) scale(1 1.04)" text-anchor="end">3000</text>
<text class="tk" transform="translate(98.2 239.83) scale(1 1.04)" text-anchor="end">4000</text>
<text class="tk" transform="translate(98.2 145.12) scale(1 1.04)" text-anchor="end">5000</text>
<text class="tk" transform="translate(98.2 50.4) scale(1 1.04)" text-anchor="end">6000</text>
<text class="lb" transform="translate(468.5 676.2) scale(1 1.02)" text-anchor="middle">Time / S</text>
<text class="lb" transform="translate(35.7 324.45) rotate(-90) scale(1 1.02)" text-anchor="middle">Frequency(Hz)</text>
<text class="tt" style="font-size:35.5px" transform="translate(469 25.5) scale(1 1.02)" text-anchor="middle">TFR employing the 1st order MSST</text>
<text class="pn" transform="translate(-2 32) scale(1 1.02)">(g)</text>
</g>
<g id="panel-h">
<rect x="1040" y="40.3" width="723" height="568.3" fill="#3e26a8"/>
<clipPath id="cp-h"><rect x="1040" y="40.3" width="723" height="568.3"/></clipPath>
<g clip-path="url(#cp-h)">
<path d="M1703.1 262.5L1708.7 274.0L1717.8 261.5L1730.2 272.3L1735.8 254.8M1743.2 285.7L1752.1 278.9L1761.0 295.8L1761.0 278.3L1761.0 290.9L1761.0 278.2M1269.3 266.3L1281.6 283.2L1291.4 265.4M1275.7 277.8L1282.1 284.2L1290.2 267.7L1303.5 279.6M1262.5 279.4L1269.3 262.0L1275.9 282.7L1286.1 270.8L1292.9 290.6L1299.3 277.7M1494.2 305.3L1506.2 329.4L1519.4 305.8L1530.0 330.2L1542.7 317.9L1557.5 330.8M1377.0 269.3L1391.6 259.5L1398.0 275.2L1405.1 259.2M1345.6 284.6L1357.3 271.0L1364.3 288.4M1728.5 279.6L1737.9 259.3L1748.7 275.4L1761.0 267.6M1443.4 294.2L1452.1 312.9L1458.6 290.5L1473.2 311.3L1488.2 300.5L1496.8 306.6M1331.4 297.9L1344.0 274.2L1353.5 285.1M1557.9 280.5L1565.8 256.0L1573.4 262.9L1587.4 250.1M1338.6 286.4L1346.6 263.1L1353.6 269.6L1367.6 251.2L1380.3 273.7M1318.8 257.8L1329.0 265.6L1338.9 257.6L1349.8 271.6L1363.5 261.1M1744.2 304.4L1752.2 316.9L1759.1 295.4L1761.0 315.0L1761.0 296.5L1761.0 303.6M1166.5 261.5L1181.4 269.8L1193.4 246.5M1255.5 266.0L1264.1 274.2L1270.4 252.3M1271.0 280.2L1282.8 264.4L1290.3 280.7L1302.9 266.4M1499.4 287.7L1512.9 281.3L1522.1 300.7L1534.8 284.9L1542.3 298.3M1349.6 277.4L1358.5 253.7L1364.3 264.9L1377.6 251.7M1057.5 266.4L1071.7 290.6L1083.5 276.8L1089.6 298.4L1098.7 285.5L1104.7 291.8M1572.2 271.0L1583.4 277.9L1594.5 262.5L1605.1 270.5L1611.2 255.8M1265.8 269.5L1276.4 278.9L1285.2 254.7M1396.4 289.8L1404.0 308.1L1417.0 291.8L1423.0 312.3L1429.8 289.1M1224.0 265.6L1236.3 289.4L1247.8 274.0M1751.2 263.3L1761.0 281.5L1761.0 263.4M1393.2 355.7L1404.4 368.7L1410.2 348.7L1419.7 355.2M1055.8 366.7L1062.0 354.8L1073.9 372.1L1087.3 362.5L1100.5 383.3L1107.3 374.9M1482.0 334.3L1495.2 349.9L1505.8 333.0L1520.2 353.8L1533.7 343.1L1544.9 364.3M1696.3 362.1L1705.1 352.5L1715.4 376.8L1728.2 369.2M1674.9 357.6L1683.6 374.0L1698.4 366.5L1705.0 388.5L1711.1 375.8L1716.9 382.1M1678.3 334.9L1690.6 316.5L1698.9 337.3L1713.1 316.7L1719.5 332.4M1057.8 366.0L1069.9 358.4L1082.4 378.7M1718.8 349.2L1729.4 364.8L1744.0 347.1L1755.4 364.5M1571.3 349.5L1583.8 328.4L1597.8 349.0L1608.5 326.6L1618.5 345.9M1583.7 355.1L1589.4 372.4L1603.5 359.8M1474.0 355.9L1488.8 374.6L1503.7 350.3L1510.5 369.8L1523.1 350.3M1463.8 334.5L1474.9 314.9L1480.9 323.0M1247.7 351.6L1261.9 364.2L1270.2 342.0L1283.4 365.1M1447.5 327.8L1462.5 321.4L1474.2 330.2L1485.8 323.8L1495.6 337.0L1507.4 328.9M1601.6 333.1L1613.4 342.4L1619.1 320.1L1630.1 327.9L1645.1 311.1L1657.8 332.0M1168.2 348.7L1174.8 358.3L1183.9 352.6L1193.3 376.5L1207.0 367.4L1220.5 377.4M1254.9 349.0L1264.3 358.4L1279.0 337.5L1293.1 344.5M1073.5 344.6L1084.5 322.3L1097.3 344.8M1689.5 363.0L1696.0 387.6L1710.5 365.8M1235.4 344.9L1249.2 361.1L1256.3 349.3L1269.7 364.0L1283.0 347.5L1290.8 364.7M1706.6 345.8L1713.9 357.0L1728.3 335.6L1739.8 353.9M1581.8 356.6L1587.8 378.7L1597.0 362.2L1609.1 385.0L1616.6 377.6L1627.0 387.5M1109.8 554.9L1119.0 557.6L1132.2 549.6M1170.9 562.1L1185.4 558.8L1192.3 561.7L1202.9 554.3L1212.0 561.0L1226.5 555.8M1078.2 559.2L1092.4 562.1L1106.8 559.9L1120.5 565.9L1130.6 562.4L1144.0 568.0M1366.1 555.3L1374.8 548.3L1388.4 556.7M1666.7 557.1L1674.9 549.3L1682.7 551.9M1081.8 561.8L1092.5 565.1L1103.0 560.8L1111.5 567.4L1119.4 563.2M1152.6 550.3L1161.0 555.5L1174.4 552.3L1186.7 557.2L1197.6 551.9M1483.7 552.5L1494.8 547.8L1509.8 551.0L1515.3 548.2L1527.4 550.8L1539.9 548.2M1060.6 561.0L1073.1 556.4L1087.3 562.2L1100.5 557.9L1109.6 564.5L1122.3 557.9M1272.0 560.9L1278.8 556.5L1284.4 563.2L1295.9 560.7M1578.9 551.1L1588.7 553.7L1599.6 550.7L1610.7 554.7M1384.0 554.7L1394.1 547.8L1407.9 554.2M1102.8 551.4L1114.8 555.7L1128.2 548.7L1140.6 552.4L1152.5 546.1L1166.1 551.5M1194.7 559.8L1209.6 552.0L1216.2 555.4L1228.3 547.9L1233.8 551.9M1616.3 560.4L1626.6 565.9L1636.4 558.1L1648.1 564.5M1349.4 549.0L1356.9 546.6L1362.8 551.0L1371.9 546.0L1379.2 549.5L1389.0 545.6M1588.5 561.4L1596.5 556.2L1607.5 560.6M1294.9 551.5L1304.6 544.9L1310.1 553.5M1104.4 493.0L1116.7 507.6L1122.2 495.9L1136.0 510.9L1144.8 486.6L1157.3 492.3M1601.6 497.0L1616.4 507.1L1628.2 490.4M1234.5 487.2L1240.3 477.2L1255.2 497.5L1263.8 472.9L1272.4 494.7M1367.1 484.4L1379.5 467.8L1387.3 487.9L1395.2 467.0M1667.2 491.3L1678.9 471.2L1687.5 482.9L1696.9 472.8M1705.7 484.4L1715.8 493.3L1729.5 476.2M1537.4 497.5L1550.7 475.1L1564.5 487.8L1575.9 473.2M1653.2 492.5L1659.3 485.7L1673.2 498.2L1682.3 473.8L1694.7 482.4M1475.5 419.9L1486.7 403.8L1498.7 423.7L1505.9 403.2L1516.0 411.7M1646.4 415.6L1657.0 428.0L1671.8 412.9L1677.6 434.0L1684.0 423.0L1693.8 432.7M1422.6 399.2L1429.6 421.2L1443.7 413.4L1449.3 433.2M1472.8 382.1L1478.7 370.9L1488.3 389.4L1503.1 367.1L1509.1 375.2M1460.6 407.1L1471.7 388.6L1477.9 394.4L1490.4 377.2L1498.4 391.8M1285.9 418.8L1297.6 401.4L1310.2 413.1M1210.0 197.6L1218.7 211.5L1226.1 204.0L1235.8 220.9M1459.1 241.6L1467.6 263.6L1473.8 251.9L1479.3 264.4L1490.9 258.5M1053.0 186.1L1066.0 168.6L1076.0 182.9L1082.0 165.1M1705.9 225.3L1714.3 218.0L1727.2 239.1L1733.6 219.9L1746.4 236.7L1760.2 217.4M1709.6 171.8L1717.3 161.5L1729.6 177.2L1735.7 155.5L1742.3 166.8M1590.1 234.3L1597.6 248.8L1603.7 226.1L1609.2 235.5M1075.9 246.9L1089.0 259.9L1102.3 250.9L1115.2 267.5M1605.1 224.6L1611.9 245.1L1620.5 234.2L1631.2 248.0L1639.9 238.2M1719.6 594.1L1732.7 591.1L1746.1 597.2L1754.7 594.3L1761.0 598.2L1761.0 590.7M1587.8 595.9L1595.5 592.2L1605.4 598.7L1611.8 596.4L1626.2 598.4L1638.8 593.3M1375.7 589.9L1386.0 587.9L1396.4 595.7M1219.1 600.4L1232.3 604.4L1242.1 595.9" fill="none" stroke="#3c5ee6" stroke-width="1.1" stroke-linejoin="round" opacity="0.12"/>
<polyline points="1042.9,282.3 1046.5,281.1 1050.1,280.8 1053.7,287.3" fill="none" stroke="#3b6ff0" stroke-width="1" stroke-linejoin="round" opacity="0.23"/>
<polyline points="1059.9,298.8 1063.5,296.2 1067.1,292.9 1070.7,293.4 1074.3,292.8" fill="none" stroke="#3b6ff0" stroke-width="1" stroke-linejoin="round" opacity="0.16"/>
<polyline points="1083.4,274.9 1087.0,276.9 1090.7,280.7 1094.3,279.8 1097.9,278.2 1101.5,281.9 1105.1,287.9" fill="none" stroke="#3b6ff0" stroke-width="1" stroke-linejoin="round" opacity="0.14"/>
<polyline points="1110.0,285.7 1113.6,278.6 1117.2,275.9 1120.8,277.3 1124.4,276.0 1128.0,271.4 1131.6,271.2 1135.3,278.9 1138.9,287.4 1142.5,289.8 1146.1,289.6" fill="none" stroke="#3b6ff0" stroke-width="1" stroke-linejoin="round" opacity="0.20"/>
<polyline points="1152.5,297.1 1156.1,296.9 1159.8,289.5 1163.4,283.1 1167.0,283.4 1170.6,285.6 1174.2,283.7 1177.8,280.8 1181.4,284.0" fill="none" stroke="#3b6ff0" stroke-width="1" stroke-linejoin="round" opacity="0.16"/>
<polyline points="1190.5,291.3 1194.1,285.5 1197.7,283.3 1201.4,283.5 1205.0,279.1 1208.6,270.7" fill="none" stroke="#3b6ff0" stroke-width="1" stroke-linejoin="round" opacity="0.13"/>
<polyline points="1214.4,268.9 1218.0,275.1 1221.7,277.9 1225.3,277.8 1228.9,281.6 1232.5,289.4 1236.1,293.0 1239.7,288.8 1243.3,283.6 1246.9,283.9 1250.6,285.9" fill="none" stroke="#3b6ff0" stroke-width="1" stroke-linejoin="round" opacity="0.23"/>
<polyline points="1255.6,281.6 1259.2,279.5 1262.8,284.9 1266.4,293.0" fill="none" stroke="#3b6ff0" stroke-width="1" stroke-linejoin="round" opacity="0.23"/>
<polyline points="1274.5,292.3 1278.1,293.2 1281.8,295.3 1285.4,291.0 1289.0,281.2" fill="none" stroke="#3b6ff0" stroke-width="1" stroke-linejoin="round" opacity="0.13"/>
<polyline points="1292.0,275.2 1295.6,274.9 1299.2,276.8 1302.9,274.7 1306.5,272.5" fill="none" stroke="#3b6ff0" stroke-width="1" stroke-linejoin="round" opacity="0.12"/>
<polyline points="1311.8,280.4 1315.4,286.9 1319.0,286.0 1322.6,281.5 1326.2,280.8 1329.8,282.9 1333.4,280.7 1337.0,274.5 1340.7,272.9 1344.3,279.1" fill="none" stroke="#3b6ff0" stroke-width="1" stroke-linejoin="round" opacity="0.18"/>
<polyline points="1348.8,287.1 1352.4,287.9 1356.0,289.5 1359.6,295.8 1363.2,300.6 1366.9,297.2 1370.5,289.3 1374.1,285.5 1377.7,286.0 1381.3,283.7" fill="none" stroke="#3b6ff0" stroke-width="1" stroke-linejoin="round" opacity="0.24"/>
<polyline points="1388.8,276.2 1392.5,282.2 1396.1,287.7 1399.7,286.6 1403.3,283.2 1406.9,283.9 1410.5,285.7 1414.1,281.5 1417.8,272.9 1421.4,268.8" fill="none" stroke="#3b6ff0" stroke-width="1" stroke-linejoin="round" opacity="0.18"/>
<polyline points="1422.6,269.4 1426.2,273.8 1429.8,276.1 1433.4,275.4 1437.0,278.7 1440.6,287.7" fill="none" stroke="#3b6ff0" stroke-width="1" stroke-linejoin="round" opacity="0.13"/>
<polyline points="1450.7,290.3 1454.3,289.2 1457.9,291.1 1461.6,289.1 1465.2,282.3 1468.8,279.1 1472.4,283.6 1476.0,289.4 1479.6,289.8 1483.2,288.1" fill="none" stroke="#3b6ff0" stroke-width="1" stroke-linejoin="round" opacity="0.12"/>
<polyline points="1487.2,291.0 1490.8,294.7 1494.4,291.4 1498.1,282.1 1501.7,275.9 1505.3,275.7 1508.9,275.2" fill="none" stroke="#3b6ff0" stroke-width="1" stroke-linejoin="round" opacity="0.20"/>
<polyline points="1519.3,273.2 1522.9,281.9 1526.5,285.6 1530.1,283.9 1533.8,284.0 1537.4,287.9 1541.0,288.5" fill="none" stroke="#3b6ff0" stroke-width="1" stroke-linejoin="round" opacity="0.22"/>
<polyline points="1544.5,282.7 1548.1,276.9 1551.7,278.4 1555.3,284.0 1558.9,286.0 1562.5,285.2 1566.2,288.8 1569.8,296.7 1573.4,300.4 1577.0,295.8 1580.6,289.6" fill="none" stroke="#3b6ff0" stroke-width="1" stroke-linejoin="round" opacity="0.18"/>
<polyline points="1589.5,284.9 1593.1,277.1 1596.7,271.8 1600.4,274.8 1604.0,280.7 1607.6,281.7 1611.2,279.8 1614.8,281.9 1618.4,286.8" fill="none" stroke="#3b6ff0" stroke-width="1" stroke-linejoin="round" opacity="0.22"/>
<polyline points="1624.8,281.3 1628.4,274.4 1632.0,273.9 1635.6,276.9 1639.3,276.6 1642.9,274.6 1646.5,278.4" fill="none" stroke="#3b6ff0" stroke-width="1" stroke-linejoin="round" opacity="0.17"/>
<polyline points="1653.3,294.5 1656.9,294.7 1660.5,292.6 1664.1,294.1 1667.7,296.0 1671.3,291.4 1675.0,282.9 1678.6,279.3 1682.2,282.6 1685.8,285.1" fill="none" stroke="#3b6ff0" stroke-width="1" stroke-linejoin="round" opacity="0.20"/>
<polyline points="1689.5,283.0 1693.2,282.4 1696.8,287.5 1700.4,292.3 1704.0,289.4 1707.6,281.8 1711.2,277.9 1714.8,278.2" fill="none" stroke="#3b6ff0" stroke-width="1" stroke-linejoin="round" opacity="0.18"/>
<polyline points="1719.2,274.5 1722.8,268.3 1726.4,267.8 1730.0,275.1 1733.6,282.2 1737.3,283.6 1740.9,284.1" fill="none" stroke="#3b6ff0" stroke-width="1" stroke-linejoin="round" opacity="0.11"/>
<polyline points="1741.4,284.5 1745.0,290.0 1748.6,294.4 1752.2,291.1 1755.9,284.0" fill="none" stroke="#3b6ff0" stroke-width="1" stroke-linejoin="round" opacity="0.11"/>
<polyline points="1042.9,344.4 1046.5,344.1 1050.1,347.4 1053.7,352.1 1057.3,353.9 1060.9,350.5 1064.5,344.1 1068.2,339.0 1071.8,337.7 1075.4,338.6 1079.0,338.1 1082.6,335.5" fill="none" stroke="#3b6ff0" stroke-width="1" stroke-linejoin="round" opacity="0.24"/>
<polyline points="1084.3,334.2 1087.9,333.8 1091.6,338.4 1095.2,346.4" fill="none" stroke="#3b6ff0" stroke-width="1" stroke-linejoin="round" opacity="0.26"/>
<polyline points="1099.0,353.4 1102.6,355.3 1106.2,353.8 1109.9,352.8 1113.5,354.2 1117.1,356.1 1120.7,355.0 1124.3,350.2 1127.9,344.6" fill="none" stroke="#3b6ff0" stroke-width="1" stroke-linejoin="round" opacity="0.26"/>
<polyline points="1138.2,350.1 1141.8,353.6 1145.4,353.7 1149.0,352.3 1152.6,352.7 1156.3,355.5 1159.9,357.5 1163.5,355.0" fill="none" stroke="#3b6ff0" stroke-width="1" stroke-linejoin="round" opacity="0.15"/>
<polyline points="1170.5,340.6 1174.1,336.2 1177.7,336.1 1181.3,337.7 1184.9,337.5 1188.6,335.7 1192.2,335.4 1195.8,339.3 1199.4,346.3 1203.0,352.0" fill="none" stroke="#3b6ff0" stroke-width="1" stroke-linejoin="round" opacity="0.11"/>
<polyline points="1209.6,350.3 1213.2,346.7 1216.8,345.6 1220.4,347.1" fill="none" stroke="#3b6ff0" stroke-width="1" stroke-linejoin="round" opacity="0.16"/>
<polyline points="1228.1,345.4 1231.7,341.8 1235.3,341.2 1238.9,345.8 1242.5,353.0 1246.1,358.4 1249.8,359.3 1253.4,357.6 1257.0,356.7 1260.6,358.0 1264.2,358.9" fill="none" stroke="#3b6ff0" stroke-width="1" stroke-linejoin="round" opacity="0.25"/>
<polyline points="1273.4,344.5 1277.0,338.6 1280.6,337.7 1284.2,340.4 1287.8,342.7 1291.4,342.4 1295.0,341.0 1298.6,341.9" fill="none" stroke="#3b6ff0" stroke-width="1" stroke-linejoin="round" opacity="0.17"/>
<polyline points="1302.7,346.7 1306.3,351.0 1309.9,351.2 1313.5,346.5 1317.2,340.6 1320.8,337.7 1324.4,338.6 1328.0,340.6" fill="none" stroke="#3b6ff0" stroke-width="1" stroke-linejoin="round" opacity="0.13"/>
<polyline points="1333.1,340.0 1336.7,338.6 1340.3,340.5 1343.9,346.9 1347.6,355.0 1351.2,360.1 1354.8,360.1 1358.4,357.3" fill="none" stroke="#3b6ff0" stroke-width="1" stroke-linejoin="round" opacity="0.10"/>
<polyline points="1363.9,355.5 1367.5,356.4 1371.1,355.4 1374.7,350.7" fill="none" stroke="#3b6ff0" stroke-width="1" stroke-linejoin="round" opacity="0.19"/>
<polyline points="1378.3,344.4 1381.9,340.9 1385.5,342.6 1389.2,347.4 1392.8,350.9" fill="none" stroke="#3b6ff0" stroke-width="1" stroke-linejoin="round" opacity="0.17"/>
<polyline points="1401.7,348.3 1405.3,349.1 1408.9,351.5 1412.5,351.8 1416.1,347.4 1419.7,340.0 1423.3,334.0 1426.9,332.7 1430.6,335.3 1434.2,338.0 1437.8,338.5 1441.4,338.1" fill="none" stroke="#3b6ff0" stroke-width="1" stroke-linejoin="round" opacity="0.23"/>
<polyline points="1449.6,348.9 1453.2,355.6 1456.8,357.8 1460.5,355.1 1464.1,350.9 1467.7,349.0 1471.3,350.1" fill="none" stroke="#3b6ff0" stroke-width="1" stroke-linejoin="round" opacity="0.19"/>
<polyline points="1478.9,348.7 1482.5,345.0 1486.1,343.6 1489.7,347.1 1493.3,353.6 1497.0,358.5 1500.6,358.8 1504.2,355.9 1507.8,353.3 1511.4,353.1 1515.0,353.3 1518.6,350.4" fill="none" stroke="#3b6ff0" stroke-width="1" stroke-linejoin="round" opacity="0.24"/>
<polyline points="1520.2,347.8 1523.8,340.1 1527.4,333.8 1531.1,332.6 1534.7,336.0 1538.3,339.9 1541.9,341.4 1545.5,340.9 1549.1,341.7 1552.7,345.7" fill="none" stroke="#3b6ff0" stroke-width="1" stroke-linejoin="round" opacity="0.22"/>
<polyline points="1559.8,353.1 1563.4,350.5 1567.0,344.9 1570.6,340.9 1574.2,341.1 1577.8,343.9 1581.4,345.7 1585.0,345.1 1588.7,344.3 1592.3,347.0 1595.9,353.5 1599.5,360.5" fill="none" stroke="#3b6ff0" stroke-width="1" stroke-linejoin="round" opacity="0.16"/>
<polyline points="1602.9,363.4 1606.5,361.4 1610.2,356.9 1613.8,353.9 1617.4,353.3 1621.0,352.5" fill="none" stroke="#3b6ff0" stroke-width="1" stroke-linejoin="round" opacity="0.13"/>
<polyline points="1628.7,341.4 1632.3,336.9 1635.9,337.6 1639.5,342.3 1643.1,346.9 1646.7,347.9 1650.4,346.1 1654.0,344.9 1657.6,346.4 1661.2,348.8" fill="none" stroke="#3b6ff0" stroke-width="1" stroke-linejoin="round" opacity="0.24"/>
<polyline points="1665.5,347.7 1669.1,342.1 1672.7,335.8 1676.3,333.2 1680.0,335.5 1683.6,340.1 1687.2,343.1 1690.8,343.8 1694.4,344.9 1698.0,349.3" fill="none" stroke="#3b6ff0" stroke-width="1" stroke-linejoin="round" opacity="0.10"/>
<polyline points="1704.3,360.6 1707.9,362.3 1711.5,358.7 1715.1,353.4 1718.7,350.3 1722.4,350.5" fill="none" stroke="#3b6ff0" stroke-width="1" stroke-linejoin="round" opacity="0.15"/>
<polyline points="1733.2,344.9 1736.8,342.5 1740.4,344.8 1744.0,350.5" fill="none" stroke="#3b6ff0" stroke-width="1" stroke-linejoin="round" opacity="0.26"/>
<polyline points="1750.4,356.0 1754.0,353.2 1757.6,349.2" fill="none" stroke="#3b6ff0" stroke-width="1" stroke-linejoin="round" opacity="0.17"/>
<polyline points="1042.9,561.2 1046.5,560.4 1050.1,559.2 1053.7,559.8" fill="none" stroke="#3b6ff0" stroke-width="1" stroke-linejoin="round" opacity="0.18"/>
<polyline points="1056.1,560.4 1059.7,559.3 1063.3,555.5 1066.9,552.8 1070.5,553.8 1074.2,556.1 1077.8,556.4 1081.4,555.4 1085.0,556.2 1088.6,558.9 1092.2,559.7 1095.8,556.7" fill="none" stroke="#3b6ff0" stroke-width="1" stroke-linejoin="round" opacity="0.11"/>
<polyline points="1102.7,551.6 1106.3,551.7 1110.0,550.4 1113.6,547.7 1117.2,547.0 1120.8,550.2" fill="none" stroke="#3b6ff0" stroke-width="1" stroke-linejoin="round" opacity="0.18"/>
<polyline points="1126.6,555.3 1130.2,555.2 1133.8,555.5 1137.4,557.9 1141.0,559.5 1144.7,557.7 1148.3,554.2 1151.9,553.1 1155.5,554.8 1159.1,556.0" fill="none" stroke="#3b6ff0" stroke-width="1" stroke-linejoin="round" opacity="0.10"/>
<polyline points="1161.3,555.7 1164.9,554.9 1168.5,556.7 1172.1,560.6 1175.7,562.7 1179.3,561.0" fill="none" stroke="#3b6ff0" stroke-width="1" stroke-linejoin="round" opacity="0.21"/>
<polyline points="1188.1,557.9 1191.7,556.8 1195.4,552.9 1199.0,549.1 1202.6,548.9 1206.2,551.4 1209.8,552.6" fill="none" stroke="#3b6ff0" stroke-width="1" stroke-linejoin="round" opacity="0.21"/>
<polyline points="1218.9,553.5 1222.5,556.6 1226.1,557.2 1229.7,554.4 1233.3,551.7" fill="none" stroke="#3b6ff0" stroke-width="1" stroke-linejoin="round" opacity="0.16"/>
<polyline points="1236.8,551.8 1240.4,552.9 1244.0,552.1 1247.6,550.4 1251.2,551.6 1254.9,555.9 1258.5,559.7" fill="none" stroke="#3b6ff0" stroke-width="1" stroke-linejoin="round" opacity="0.12"/>
<polyline points="1260.9,560.3 1264.5,559.7 1268.1,560.1 1271.7,562.0 1275.4,561.7 1279.0,558.1 1282.6,554.2 1286.2,553.5 1289.8,554.7" fill="none" stroke="#3b6ff0" stroke-width="1" stroke-linejoin="round" opacity="0.11"/>
<polyline points="1293.1,554.7 1296.7,553.1 1300.3,553.0 1303.9,555.9 1307.6,558.6" fill="none" stroke="#3b6ff0" stroke-width="1" stroke-linejoin="round" opacity="0.11"/>
<polyline points="1315.2,554.3 1318.8,553.2 1322.5,553.5 1326.1,552.0 1329.7,548.5 1333.3,546.7" fill="none" stroke="#3b6ff0" stroke-width="1" stroke-linejoin="round" opacity="0.21"/>
<polyline points="1336.7,548.7 1340.4,552.3 1344.0,553.9 1347.6,554.1" fill="none" stroke="#3b6ff0" stroke-width="1" stroke-linejoin="round" opacity="0.11"/>
<polyline points="1353.5,558.1 1357.1,561.0 1360.7,560.2 1364.3,557.0 1368.0,555.4 1371.6,556.2" fill="none" stroke="#3b6ff0" stroke-width="1" stroke-linejoin="round" opacity="0.13"/>
<polyline points="1380.5,553.8 1384.1,554.1 1387.8,557.6 1391.4,560.6 1395.0,560.3 1398.6,558.5 1402.2,558.3 1405.8,559.0 1409.4,557.1" fill="none" stroke="#3b6ff0" stroke-width="1" stroke-linejoin="round" opacity="0.11"/>
<polyline points="1419.1,548.8 1422.8,550.3 1426.4,550.7 1430.0,549.7 1433.6,550.4 1437.2,554.1 1440.8,557.3" fill="none" stroke="#3b6ff0" stroke-width="1" stroke-linejoin="round" opacity="0.16"/>
<polyline points="1444.8,556.7 1448.4,554.4 1452.0,554.0 1455.6,555.1 1459.2,554.5 1462.8,551.8 1466.4,550.7 1470.1,553.4 1473.7,557.3 1477.3,558.8" fill="none" stroke="#3b6ff0" stroke-width="1" stroke-linejoin="round" opacity="0.16"/>
<polyline points="1483.3,559.2 1487.0,561.7 1490.6,563.3 1494.2,561.1 1497.8,556.9" fill="none" stroke="#3b6ff0" stroke-width="1" stroke-linejoin="round" opacity="0.09"/>
<polyline points="1502.6,554.5 1506.2,554.8 1509.8,553.5 1513.4,551.0 1517.0,550.6 1520.6,553.7 1524.2,556.6 1527.8,556.3 1531.5,554.4 1535.1,554.2 1538.7,555.2" fill="none" stroke="#3b6ff0" stroke-width="1" stroke-linejoin="round" opacity="0.21"/>
<polyline points="1543.3,553.3 1546.9,549.4 1550.5,547.7 1554.1,549.6" fill="none" stroke="#3b6ff0" stroke-width="1" stroke-linejoin="round" opacity="0.10"/>
<polyline points="1564.5,552.8 1568.1,555.5 1571.8,559.8 1575.4,562.0 1579.0,560.3" fill="none" stroke="#3b6ff0" stroke-width="1" stroke-linejoin="round" opacity="0.13"/>
<polyline points="1581.0,558.9 1584.6,557.7 1588.2,558.4 1591.8,557.8 1595.4,554.8 1599.0,552.6 1602.7,554.1 1606.3,557.3" fill="none" stroke="#3b6ff0" stroke-width="1" stroke-linejoin="round" opacity="0.12"/>
<polyline points="1615.4,556.9 1619.0,558.0 1622.6,559.5 1626.2,557.8 1629.8,553.3 1633.4,550.0 1637.0,549.9 1640.7,550.4 1644.3,549.1 1647.9,547.9 1651.5,549.8 1655.1,554.3" fill="none" stroke="#3b6ff0" stroke-width="1" stroke-linejoin="round" opacity="0.15"/>
<polyline points="1663.3,556.0 1666.9,555.7 1670.5,557.2 1674.2,557.7 1677.8,555.2 1681.4,552.2 1685.0,552.4 1688.6,555.2 1692.2,557.1" fill="none" stroke="#3b6ff0" stroke-width="1" stroke-linejoin="round" opacity="0.14"/>
<polyline points="1701.4,558.9 1705.1,562.3 1708.7,563.1 1712.3,560.2" fill="none" stroke="#3b6ff0" stroke-width="1" stroke-linejoin="round" opacity="0.10"/>
<polyline points="1720.7,555.9 1724.4,555.0 1728.0,551.7 1731.6,548.9 1735.2,549.6 1738.8,552.9 1742.4,554.6 1746.0,553.8" fill="none" stroke="#3b6ff0" stroke-width="1" stroke-linejoin="round" opacity="0.17"/>
<polyline points="1752.9,555.3 1756.5,556.8 1760.1,555.0" fill="none" stroke="#3b6ff0" stroke-width="1" stroke-linejoin="round" opacity="0.11"/>
<polyline points="1042.9,490.5 1046.5,488.6 1050.1,484.9 1053.7,482.9 1057.3,484.4 1060.9,487.5 1064.5,489.1 1068.2,489.2 1071.8,490.5 1075.4,494.2" fill="none" stroke="#3b6ff0" stroke-width="1" stroke-linejoin="round" opacity="0.08"/>
<polyline points="1080.9,498.7 1084.6,497.1 1088.2,494.1 1091.8,492.8 1095.4,493.2 1099.0,492.7 1102.6,490.0 1106.2,487.5" fill="none" stroke="#3b6ff0" stroke-width="1" stroke-linejoin="round" opacity="0.06"/>
<polyline points="1112.2,490.0 1115.9,493.2 1119.5,493.9 1123.1,492.5 1126.7,491.9 1130.3,493.0" fill="none" stroke="#3b6ff0" stroke-width="1" stroke-linejoin="round" opacity="0.07"/>
<polyline points="1137.1,491.4 1140.7,486.8 1144.3,483.3 1147.9,483.1 1151.5,484.5 1155.1,484.7" fill="none" stroke="#3b6ff0" stroke-width="1" stroke-linejoin="round" opacity="0.06"/>
<polyline points="1159.6,483.6 1163.2,484.9 1166.8,489.0 1170.4,492.8 1174.1,493.4 1177.7,491.6" fill="none" stroke="#3b6ff0" stroke-width="1" stroke-linejoin="round" opacity="0.09"/>
<polyline points="1186.1,491.7 1189.7,491.7 1193.3,489.3 1196.9,486.7 1200.5,487.2" fill="none" stroke="#3b6ff0" stroke-width="1" stroke-linejoin="round" opacity="0.06"/>
<polyline points="1203.3,489.7 1206.9,493.2 1210.6,494.4 1214.2,494.1 1217.8,494.9 1221.4,497.4 1225.0,498.9" fill="none" stroke="#3b6ff0" stroke-width="1" stroke-linejoin="round" opacity="0.04"/>
<polyline points="1230.9,493.9 1234.5,490.0 1238.1,488.7 1241.8,488.9 1245.4,488.0 1249.0,485.5 1252.6,484.4" fill="none" stroke="#3b6ff0" stroke-width="1" stroke-linejoin="round" opacity="0.07"/>
<polyline points="1254.7,485.2 1258.3,488.7 1261.9,491.6 1265.5,491.4 1269.1,489.4 1272.8,488.8 1276.4,489.7 1280.0,489.7" fill="none" stroke="#3b6ff0" stroke-width="1" stroke-linejoin="round" opacity="0.06"/>
<polyline points="1287.1,483.3 1290.8,482.3 1294.4,484.7 1298.0,487.7" fill="none" stroke="#3b6ff0" stroke-width="1" stroke-linejoin="round" opacity="0.08"/>
<polyline points="1305.0,488.9 1308.6,490.8 1312.3,494.8 1315.9,497.9 1319.5,497.3 1323.1,494.3" fill="none" stroke="#3b6ff0" stroke-width="1" stroke-linejoin="round" opacity="0.04"/>
<polyline points="1330.8,492.7 1334.4,492.8 1338.0,490.6 1341.6,488.1" fill="none" stroke="#3b6ff0" stroke-width="1" stroke-linejoin="round" opacity="0.07"/>
<polyline points="1345.5,488.4 1349.1,491.8 1352.7,494.6 1356.4,494.6 1360.0,493.1 1363.6,492.8 1367.2,493.9" fill="none" stroke="#3b6ff0" stroke-width="1" stroke-linejoin="round" opacity="0.09"/>
<polyline points="1368.9,494.1 1372.5,492.3 1376.2,487.7 1379.8,483.8 1383.4,483.2" fill="none" stroke="#3b6ff0" stroke-width="1" stroke-linejoin="round" opacity="0.03"/>
<polyline points="1389.3,485.1 1392.9,484.4 1396.5,483.8 1400.1,485.8" fill="none" stroke="#3b6ff0" stroke-width="1" stroke-linejoin="round" opacity="0.04"/>
<polyline points="1408.8,493.2 1412.4,491.6 1416.0,489.7 1419.6,489.9 1423.2,490.9 1426.8,490.2 1430.4,487.4 1434.0,485.8 1437.7,487.7 1441.3,491.6 1444.9,494.2 1448.5,494.4" fill="none" stroke="#3b6ff0" stroke-width="1" stroke-linejoin="round" opacity="0.04"/>
<polyline points="1453.8,495.1 1457.4,497.6 1461.0,499.0 1464.6,496.9 1468.2,492.5 1471.8,489.5 1475.4,489.2 1479.1,489.4 1482.7,487.9 1486.3,485.7 1489.9,485.8 1493.5,488.9" fill="none" stroke="#3b6ff0" stroke-width="1" stroke-linejoin="round" opacity="0.04"/>
<polyline points="1496.0,491.3 1499.6,492.6 1503.2,490.9 1506.8,489.0 1510.4,489.1 1514.1,489.7 1517.7,488.1 1521.3,484.4" fill="none" stroke="#3b6ff0" stroke-width="1" stroke-linejoin="round" opacity="0.04"/>
<polyline points="1527.6,482.1 1531.2,485.1 1534.8,487.7 1538.4,488.3 1542.1,488.7 1545.7,491.4 1549.3,495.4 1552.9,497.4 1556.5,495.8 1560.1,492.8 1563.7,491.6" fill="none" stroke="#3b6ff0" stroke-width="1" stroke-linejoin="round" opacity="0.09"/>
<polyline points="1565.6,491.9 1569.2,492.6 1572.8,491.4 1576.5,488.8 1580.1,488.2 1583.7,491.0 1587.3,494.6 1590.9,495.8" fill="none" stroke="#3b6ff0" stroke-width="1" stroke-linejoin="round" opacity="0.06"/>
<polyline points="1597.8,493.5 1601.4,494.0 1605.0,494.7 1608.7,492.5 1612.3,487.8" fill="none" stroke="#3b6ff0" stroke-width="1" stroke-linejoin="round" opacity="0.07"/>
<polyline points="1616.6,483.7 1620.2,483.8 1623.8,485.2 1627.4,485.3 1631.0,484.2 1634.6,484.9 1638.2,488.3 1641.8,492.0 1645.5,492.7 1649.1,490.5" fill="none" stroke="#3b6ff0" stroke-width="1" stroke-linejoin="round" opacity="0.04"/>
<polyline points="1649.1,490.5 1652.8,488.7 1656.4,489.1 1660.0,489.9 1663.6,488.7 1667.2,486.0 1670.8,485.2 1674.4,488.1 1678.1,492.2 1681.7,494.3 1685.3,494.3" fill="none" stroke="#3b6ff0" stroke-width="1" stroke-linejoin="round" opacity="0.05"/>
<polyline points="1690.0,495.3 1693.6,497.8 1697.2,499.0 1700.9,496.6 1704.5,492.2 1708.1,489.6 1711.7,489.6 1715.3,490.0" fill="none" stroke="#3b6ff0" stroke-width="1" stroke-linejoin="round" opacity="0.06"/>
<polyline points="1717.6,489.3 1721.3,487.1 1724.9,486.4 1728.5,488.9 1732.1,492.4 1735.7,493.4 1739.3,491.4 1742.9,489.3 1746.6,489.1 1750.2,489.5 1753.8,487.7" fill="none" stroke="#3b6ff0" stroke-width="1" stroke-linejoin="round" opacity="0.09"/>
<polyline points="1756.6,484.7 1760.2,481.5" fill="none" stroke="#3b6ff0" stroke-width="1" stroke-linejoin="round" opacity="0.05"/>
<g filter="url(#rough)">
<ellipse cx="1103.39" cy="278.13" rx="12.55" ry="23.7" fill="url(#gb)" opacity="0.64"/>
<ellipse cx="1135" cy="272.17" rx="9.76" ry="15.33" fill="url(#gb)" opacity="0.35"/>
<ellipse cx="1204.87" cy="274.16" rx="11.15" ry="23.7" fill="url(#gb)" opacity="0.58"/>
<ellipse cx="1340.97" cy="275.2" rx="12.55" ry="22.3" fill="url(#gb)" opacity="0.64"/>
<ellipse cx="1440.35" cy="286.66" rx="8.36" ry="12.55" fill="url(#gb)" opacity="0.35"/>
<ellipse cx="1476.18" cy="290.83" rx="13.94" ry="20.91" fill="url(#gb)" opacity="0.58"/>
<ellipse cx="1576.45" cy="280.22" rx="13.94" ry="25.09" fill="url(#gb)" opacity="0.77"/>
<ellipse cx="1679.14" cy="286.66" rx="8.36" ry="12.55" fill="url(#gb)" opacity="0.32"/>
<ellipse cx="1708.35" cy="282.21" rx="12.55" ry="20.91" fill="url(#gb)" opacity="0.54"/>
<ellipse cx="1744.18" cy="280.22" rx="8.36" ry="13.94" fill="url(#gb)" opacity="0.29"/>
<ellipse cx="1075.98" cy="267.62" rx="6.97" ry="11.15" fill="url(#gb)" opacity="0.22"/>
<ellipse cx="1105.49" cy="347.18" rx="11.15" ry="25.09" fill="url(#gb)" opacity="0.64"/>
<ellipse cx="1206.07" cy="347.18" rx="11.15" ry="23.7" fill="url(#gb)" opacity="0.58"/>
<ellipse cx="1342.18" cy="346.52" rx="12.55" ry="25.09" fill="url(#gb)" opacity="0.64"/>
<ellipse cx="1444.56" cy="345.19" rx="9.76" ry="18.12" fill="url(#gb)" opacity="0.45"/>
<ellipse cx="1576.45" cy="349.17" rx="12.55" ry="23.7" fill="url(#gb)" opacity="0.61"/>
<ellipse cx="1712.56" cy="349.17" rx="11.15" ry="27.88" fill="url(#gb)" opacity="0.58"/>
<ellipse cx="1509.6" cy="344.34" rx="6.97" ry="12.55" fill="url(#gb)" opacity="0.22"/>
<ellipse cx="1135" cy="338.66" rx="6.97" ry="11.15" fill="url(#gb)" opacity="0.19"/>
<ellipse cx="1756.53" cy="343.39" rx="6.97" ry="12.55" fill="url(#gb)" opacity="0.19"/>
<ellipse cx="1112.12" cy="556.51" rx="13.94" ry="8.36" fill="url(#gb)" opacity="0.51"/>
<ellipse cx="1126.57" cy="551.58" rx="8.36" ry="6.97" fill="url(#gb)" opacity="0.38"/>
<ellipse cx="1342.18" cy="554.42" rx="13.94" ry="9.76" fill="url(#gb)" opacity="0.51"/>
<ellipse cx="1363.26" cy="554.04" rx="9.76" ry="6.97" fill="url(#gb)" opacity="0.32"/>
<ellipse cx="1444.56" cy="553" rx="8.36" ry="5.58" fill="url(#gb)" opacity="0.32"/>
<ellipse cx="1576.45" cy="551.58" rx="12.55" ry="8.36" fill="url(#gb)" opacity="0.45"/>
<ellipse cx="1601.45" cy="550.07" rx="9.76" ry="5.58" fill="url(#gb)" opacity="0.32"/>
<ellipse cx="1637.58" cy="558.59" rx="11.15" ry="9.76" fill="url(#gb)" opacity="0.38"/>
<ellipse cx="1710.45" cy="555.75" rx="12.55" ry="8.36" fill="url(#gb)" opacity="0.45"/>
<ellipse cx="1208.48" cy="552.72" rx="6.97" ry="5.58" fill="url(#gb)" opacity="0.22"/>
<ellipse cx="1280.75" cy="553.66" rx="6.97" ry="5.58" fill="url(#gb)" opacity="0.26"/>
<ellipse cx="1491.54" cy="554.61" rx="6.97" ry="5.58" fill="url(#gb)" opacity="0.19"/>
<ellipse cx="1747.49" cy="555.56" rx="6.97" ry="5.58" fill="url(#gb)" opacity="0.22"/>
<ellipse cx="1217.51" cy="491.15" rx="6.97" ry="6.97" fill="url(#gb)" opacity="0.19"/>
<ellipse cx="1449.38" cy="491.15" rx="6.97" ry="6.97" fill="url(#gb)" opacity="0.19"/>
<ellipse cx="1377.11" cy="488.31" rx="5.58" ry="5.58" fill="url(#gb)" opacity="0.13"/>
<ellipse cx="1581.87" cy="490.2" rx="5.58" ry="6.97" fill="url(#gb)" opacity="0.13"/>
</g>
<circle cx="1104.39" cy="278.13" r="0.9" fill="#35b8e6" opacity="0.7"/>
<circle cx="1205.87" cy="274.16" r="0.9" fill="#35b8e6" opacity="0.63"/>
<circle cx="1341.97" cy="275.2" r="0.9" fill="#35b8e6" opacity="0.7"/>
<circle cx="1477.18" cy="290.83" r="0.9" fill="#35b8e6" opacity="0.63"/>
<circle cx="1577.45" cy="280.22" r="0.9" fill="#35b8e6" opacity="0.84"/>
<circle cx="1709.35" cy="282.21" r="0.9" fill="#35b8e6" opacity="0.59"/>
<circle cx="1106.49" cy="347.18" r="0.9" fill="#35b8e6" opacity="0.7"/>
<circle cx="1207.07" cy="347.18" r="0.9" fill="#35b8e6" opacity="0.63"/>
<circle cx="1343.18" cy="346.52" r="0.9" fill="#35b8e6" opacity="0.7"/>
<circle cx="1577.45" cy="349.17" r="0.9" fill="#35b8e6" opacity="0.66"/>
<circle cx="1713.56" cy="349.17" r="0.9" fill="#35b8e6" opacity="0.63"/>
<circle cx="1113.12" cy="556.51" r="0.9" fill="#35b8e6" opacity="0.56"/>
<circle cx="1343.18" cy="554.42" r="0.9" fill="#35b8e6" opacity="0.56"/>
</g>
<line class="wl" x1="1098.4" y1="162.2" x2="1096.8" y2="260.6"/>
<line class="wl" x1="1208.1" y1="158.6" x2="1206.9" y2="257"/>
<line class="wl" x1="1340" y1="152.2" x2="1338.1" y2="250.7"/>
<line class="wl" x1="1466" y1="165.3" x2="1474.8" y2="260.6"/>
<line class="wl" x1="1578.2" y1="153.8" x2="1575.9" y2="251.8"/>
<line class="wl" x1="1699.4" y1="160.5" x2="1704.8" y2="255.3"/>
<text class="lt" transform="translate(1095.9 139.9) scale(1 1.04)" text-anchor="middle">A</text>
<text class="lt" transform="translate(1205.8 136.8) scale(1 1.04)" text-anchor="middle">B</text>
<text class="lt" transform="translate(1333.5 134.4) scale(1 1.04)" text-anchor="middle">C</text>
<text class="lt" transform="translate(1462.9 136.8) scale(1 1.04)" text-anchor="middle">D</text>
<text class="lt" transform="translate(1578.7 136.8) scale(1 1.04)" text-anchor="middle">E</text>
<text class="lt" transform="translate(1692.6 138.9) scale(1 1.04)" text-anchor="middle">F</text>
<path class="tc" d="M1190.41 608.6V600M1190.41 40.3V48.9M1340.97 608.6V600M1340.97 40.3V48.9M1491.54 608.6V600M1491.54 40.3V48.9M1642.1 608.6V600M1642.1 40.3V48.9M1040 608.6H1048.6M1763 608.6H1754.4M1040 513.88H1048.6M1763 513.88H1754.4M1040 419.17H1048.6M1763 419.17H1754.4M1040 324.45H1048.6M1763 324.45H1754.4M1040 229.73H1048.6M1763 229.73H1754.4M1040 135.02H1048.6M1763 135.02H1754.4M1040 40.3H1048.6M1763 40.3H1754.4"/>
<rect class="fr" x="1040" y="40.3" width="723" height="568.3"/>
<text class="tk" transform="translate(1190.41 641.2) scale(1 1.04)" text-anchor="middle">500</text>
<text class="tk" transform="translate(1340.97 641.2) scale(1 1.04)" text-anchor="middle">1000</text>
<text class="tk" transform="translate(1491.54 641.2) scale(1 1.04)" text-anchor="middle">1500</text>
<text class="tk" transform="translate(1642.1 641.2) scale(1 1.04)" text-anchor="middle">2000</text>
<text class="tk" transform="translate(1030.7 618.7) scale(1 1.04)" text-anchor="end">0</text>
<text class="tk" transform="translate(1030.7 523.98) scale(1 1.04)" text-anchor="end">1000</text>
<text class="tk" transform="translate(1030.7 429.27) scale(1 1.04)" text-anchor="end">2000</text>
<text class="tk" transform="translate(1030.7 334.55) scale(1 1.04)" text-anchor="end">3000</text>
<text class="tk" transform="translate(1030.7 239.83) scale(1 1.04)" text-anchor="end">4000</text>
<text class="tk" transform="translate(1030.7 145.12) scale(1 1.04)" text-anchor="end">5000</text>
<text class="tk" transform="translate(1030.7 50.4) scale(1 1.04)" text-anchor="end">6000</text>
<text class="lb" transform="translate(1401 676.2) scale(1 1.02)" text-anchor="middle">Time / S</text>
<text class="lb" transform="translate(968.2 324.45) rotate(-90) scale(1 1.02)" text-anchor="middle">Frequency(Hz)</text>
<text class="tt" style="font-size:35.5px" transform="translate(1401.5 25.5) scale(1 1.02)" text-anchor="middle">TFR employing the 1st order FMSST</text>
<text class="pn" transform="translate(930.8 29.5) scale(1 1.02)">(h)</text>
</g>
<g id="panel-i">
<rect x="100" y="787" width="728.4" height="571.8" fill="#3e26a8"/>
<clipPath id="cp-i"><rect x="100" y="787" width="728.4" height="571.8"/></clipPath>
<g clip-path="url(#cp-i)">
<path d="M594.2 1008.4L605.8 1021.2L616.4 1013.4M307.8 1006.6L317.5 982.6L332.4 1004.3L338.8 997.1L347.0 1009.7L359.3 988.2M516.2 1014.8L526.6 1021.7L532.1 1006.3M266.9 1037.4L280.3 1043.5L285.9 1019.8L298.5 1031.5L306.2 1013.4M301.1 1030.9L309.1 1048.8L318.9 1041.0L330.6 1051.8M199.1 1053.3L205.2 1062.0L215.6 1051.6L226.2 1066.4L237.3 1050.3M603.2 1026.1L612.1 1033.1L625.7 1023.1L632.8 1037.3L638.9 1029.9L647.4 1039.7M510.0 1037.6L524.4 1031.1L538.1 1049.7L545.5 1025.5L553.8 1031.3L561.9 1015.8M424.2 1005.7L439.0 983.4L452.8 1006.9L466.6 991.9L472.7 1006.1M574.1 1040.7L579.9 1032.3L585.8 1052.0M168.5 1047.6L180.6 1023.9L187.6 1034.1L196.2 1026.9M182.0 1043.9L196.8 1056.5L202.3 1036.7L211.0 1054.8L224.0 1047.6L234.8 1071.5M588.5 1034.1L601.7 1010.3L615.2 1027.1M561.3 1047.2L571.2 1034.5L584.3 1042.3M111.8 1038.1L126.4 1061.0L140.8 1039.8L150.8 1046.2L156.6 1026.3L162.5 1044.0M287.4 1043.4L296.3 1023.7L306.5 1046.6L316.8 1033.2M509.1 1038.7L520.9 1022.4L531.5 1029.5L541.8 1015.5M209.1 1020.7L220.9 1006.5L233.6 1017.8L242.7 998.3M169.9 1010.9L175.7 1021.9L189.2 1015.4L199.5 1036.3L207.5 1023.9M215.6 1034.7L225.6 1022.4L240.0 1040.0M575.4 1016.9L588.5 1038.6L598.1 1015.8L607.0 1038.4L619.0 1031.5M496.4 1015.1L503.5 1033.0L510.7 1013.5L523.9 1019.4L531.6 1004.7L537.8 1013.3M106.9 1031.7L116.7 1023.0L123.4 1040.2L130.1 1027.0M217.8 1045.6L225.6 1052.3L239.5 1040.8L251.9 1061.2L258.5 1038.5L265.0 1048.5M331.6 1031.6L339.4 1038.3L349.1 1027.1L359.4 1033.7M511.5 1041.9L522.0 1022.1L536.9 1036.8L544.9 1012.5L554.8 1032.1L562.5 1009.6M445.9 1072.3L459.0 1066.1L467.6 1079.2M114.0 1103.4L128.0 1085.6L139.4 1095.6L149.9 1080.2L158.9 1093.6L165.0 1069.5M309.9 1091.0L323.2 1070.1L334.1 1076.7L347.6 1056.0L354.2 1066.3M817.5 1104.9L826.4 1087.1L826.4 1096.8L826.4 1088.1M226.8 1106.8L233.6 1096.1L241.1 1113.7L249.0 1102.4L255.7 1121.3M549.4 1073.8L557.6 1093.5L563.9 1082.4L576.3 1102.8L582.2 1087.6M385.1 1079.8L398.2 1092.6L408.6 1077.3L420.9 1094.7M457.2 1090.6L466.1 1079.9L481.0 1103.7L494.6 1081.1L505.4 1100.9L515.7 1094.5M375.8 1095.2L385.0 1071.0L395.5 1089.8L404.1 1077.7M553.2 1114.9L565.0 1093.9L576.5 1113.5M653.6 1102.2L659.6 1085.4L665.9 1092.4L673.4 1084.3L682.8 1092.2M354.4 1079.4L369.3 1064.0L379.0 1072.9L387.2 1061.5L397.9 1070.1M548.9 1076.4L560.4 1086.1L573.4 1072.4L584.6 1086.6L599.1 1079.4M793.8 1085.2L802.6 1107.5L814.7 1092.6M736.1 1110.9L743.3 1091.7L749.8 1106.3L756.2 1091.1L768.0 1113.0L779.2 1093.8M126.4 1101.2L132.3 1077.1L145.9 1086.4L159.6 1069.7L171.8 1085.9M721.2 1072.2L727.1 1082.0L736.8 1065.7M155.4 1107.1L165.4 1096.4L179.9 1102.9L188.7 1089.5L203.0 1109.3L212.3 1092.4M295.1 1078.3L303.6 1099.0L312.1 1074.8L322.1 1095.6L334.0 1088.2M142.1 1115.3L152.6 1137.1L161.3 1116.0L167.8 1129.8L173.4 1114.1L179.8 1127.8M320.8 1098.1L331.1 1083.3L345.7 1099.7L358.5 1076.5L367.0 1094.4L375.3 1088.0M714.0 1093.1L725.6 1115.1L738.3 1107.7L746.2 1119.0M478.9 1301.5L488.0 1296.1L497.8 1299.1L509.4 1291.3L515.9 1298.2M160.4 1297.9L174.9 1294.2L188.3 1301.2L197.9 1296.2L208.0 1303.7M588.6 1299.7L603.5 1306.4L609.5 1298.7L618.7 1302.6L626.7 1298.7M327.5 1312.8L333.9 1318.1L345.1 1310.1L352.8 1318.2L359.8 1313.2L367.0 1320.9M166.8 1309.7L172.6 1313.2L181.4 1311.1L193.5 1316.7M526.9 1310.4L536.7 1304.8L542.4 1313.4L548.3 1306.4M772.3 1297.8L785.3 1294.9L797.2 1298.7L810.0 1294.3M316.6 1306.1L326.2 1309.3L337.7 1304.0M686.5 1307.5L698.3 1316.2L710.7 1311.4L723.3 1319.8L737.4 1314.2L744.7 1317.6M778.3 1301.4L789.5 1293.1L803.7 1300.6M446.1 1308.6L454.2 1311.9L467.5 1306.7L474.1 1311.4L485.9 1308.5M647.6 1311.9L658.5 1317.6L671.2 1314.6L678.9 1322.9L689.5 1318.0L702.2 1323.3M681.1 1312.3L691.0 1318.3L702.7 1313.7L711.0 1320.8L722.5 1316.8L729.0 1320.7M566.9 1308.0L580.1 1314.4L591.7 1308.3L597.4 1312.1L611.1 1307.5M440.6 1303.6L449.0 1298.7L461.4 1304.5L474.3 1296.6L488.2 1304.0M116.8 1305.7L126.7 1301.7L137.8 1306.9L152.6 1299.4L160.1 1307.0M277.1 1304.3L288.0 1310.9L294.0 1307.7L302.1 1316.3L313.9 1309.4L325.8 1316.7M170.0 1306.6L176.4 1299.0L186.6 1301.6L201.3 1296.9M365.4 1233.9L380.3 1253.9L395.5 1239.3M358.6 1246.2L366.0 1228.8L374.7 1248.3M354.4 1238.9L361.4 1220.1L370.9 1240.3L383.9 1221.7L390.9 1241.8L404.9 1226.9M218.6 1238.2L230.3 1252.2L238.3 1231.2L244.1 1254.0L253.0 1234.3L266.8 1243.0M470.2 1232.2L476.8 1208.6L491.7 1230.2L503.0 1213.3L515.4 1226.6L527.3 1205.3M303.0 1237.3L310.6 1228.7L321.3 1244.8L326.8 1226.7M348.1 1236.9L354.9 1228.0L364.5 1251.2L374.1 1235.8L381.9 1250.2M394.1 1246.6L405.0 1234.1L412.1 1241.7M565.2 1137.8L573.5 1120.5L581.8 1133.6M376.9 1158.3L382.4 1174.6L390.9 1151.2L399.4 1161.3L405.2 1138.0L414.2 1152.1M797.9 1171.1L809.6 1147.0L818.8 1171.2L826.4 1157.6M329.7 1175.7L340.8 1197.6L347.0 1182.6L354.0 1200.5M243.1 1179.7L250.5 1159.9L256.2 1169.5L267.3 1156.1L279.5 1167.0M246.5 1154.1L252.1 1133.3L258.1 1140.8L265.1 1133.7M307.1 993.0L319.3 1012.7L328.6 1006.1L343.7 1024.7M530.0 932.8L544.7 923.7L559.3 942.8M204.1 976.2L213.7 982.9L227.2 972.3L241.6 981.4M725.9 960.4L737.6 953.9L743.3 959.7M308.5 962.3L316.4 938.3L326.5 952.3L338.1 945.7L352.7 965.6M228.5 992.1L236.8 981.0L251.9 1000.7L261.1 986.5M418.2 978.3L426.0 986.7L437.0 969.4L447.2 980.2L460.6 966.9L467.9 990.3M292.7 929.9L300.3 938.3L307.1 931.9L322.0 940.3L329.4 918.6L336.1 934.3M608.2 1354.4L621.9 1352.0L632.8 1355.8L643.7 1351.5L651.3 1356.0L666.3 1353.5M316.2 1350.9L327.4 1356.9L335.9 1349.5M213.8 1351.7L226.1 1355.9L240.3 1353.0L248.1 1355.3M590.3 1339.4L598.7 1344.5L608.3 1339.3L616.5 1344.5L627.8 1341.6" fill="none" stroke="#3c5ee6" stroke-width="1.1" stroke-linejoin="round" opacity="0.07"/>
<polyline points="102.9,1028.9 106.5,1028.9 110.2,1033.0 113.8,1040.2" fill="none" stroke="#3b6ff0" stroke-width="1" stroke-linejoin="round" opacity="0.18"/>
<polyline points="122.5,1035.6 126.1,1032.2 129.7,1033.9 133.4,1034.6 137.0,1030.5 140.7,1027.4 144.3,1031.3 147.9,1039.1 151.6,1042.6 155.2,1040.9 158.9,1040.6 162.5,1044.1" fill="none" stroke="#3b6ff0" stroke-width="1" stroke-linejoin="round" opacity="0.26"/>
<polyline points="167.0,1044.4 170.7,1036.7 174.3,1028.5 177.9,1026.4 181.6,1027.4 185.2,1025.1" fill="none" stroke="#3b6ff0" stroke-width="1" stroke-linejoin="round" opacity="0.22"/>
<polyline points="189.0,1020.4 192.6,1021.1 196.3,1028.1 199.9,1033.5 203.6,1032.4 207.2,1029.5" fill="none" stroke="#3b6ff0" stroke-width="1" stroke-linejoin="round" opacity="0.13"/>
<polyline points="212.9,1032.5 216.5,1032.5 220.2,1026.1 223.8,1019.5 227.5,1019.8 231.1,1024.4 234.8,1026.3 238.4,1025.3" fill="none" stroke="#3b6ff0" stroke-width="1" stroke-linejoin="round" opacity="0.17"/>
<polyline points="246.1,1037.7 249.7,1044.2 253.4,1043.3 257.0,1039.8 260.6,1040.1 264.3,1042.1 267.9,1039.0 271.6,1031.5 275.2,1027.6 278.8,1030.9 282.5,1035.3" fill="none" stroke="#3b6ff0" stroke-width="1" stroke-linejoin="round" opacity="0.22"/>
<polyline points="286.7,1034.6 290.4,1033.5 294.0,1037.7 297.7,1043.3 301.3,1042.7 304.9,1035.8 308.6,1030.3 312.2,1029.7 315.9,1028.5 319.5,1022.2" fill="none" stroke="#3b6ff0" stroke-width="1" stroke-linejoin="round" opacity="0.15"/>
<polyline points="321.4,1018.4 325.1,1015.6 328.7,1020.4 332.4,1026.3 336.0,1027.3" fill="none" stroke="#3b6ff0" stroke-width="1" stroke-linejoin="round" opacity="0.14"/>
<polyline points="342.6,1029.2 346.2,1035.5 349.9,1037.8 353.5,1032.9 357.2,1027.1 360.8,1027.0 364.4,1029.4 368.1,1028.1 371.7,1024.5 375.4,1025.9" fill="none" stroke="#3b6ff0" stroke-width="1" stroke-linejoin="round" opacity="0.16"/>
<polyline points="377.2,1029.5 380.9,1038.3 384.5,1042.3 388.2,1041.2 391.8,1041.7 395.4,1045.8 399.1,1047.1 402.7,1041.1 406.4,1032.9 410.0,1030.2 413.6,1031.9" fill="none" stroke="#3b6ff0" stroke-width="1" stroke-linejoin="round" opacity="0.12"/>
<polyline points="418.4,1029.7 422.1,1025.7 425.7,1027.2 429.4,1034.1 433.0,1038.4 436.7,1035.9" fill="none" stroke="#3b6ff0" stroke-width="1" stroke-linejoin="round" opacity="0.28"/>
<polyline points="443.1,1031.9 446.8,1033.6 450.4,1030.4 454.1,1022.1 457.7,1016.5 461.3,1018.3" fill="none" stroke="#3b6ff0" stroke-width="1" stroke-linejoin="round" opacity="0.13"/>
<polyline points="468.9,1022.5 472.5,1021.8 476.1,1026.7 479.8,1035.5 483.4,1039.9 487.1,1037.3 490.7,1034.4 494.3,1035.9 498.0,1037.5 501.6,1033.6" fill="none" stroke="#3b6ff0" stroke-width="1" stroke-linejoin="round" opacity="0.26"/>
<polyline points="509.1,1026.9 512.8,1032.8 516.4,1037.2 520.1,1036.8 523.7,1037.1 527.3,1042.6 531.0,1048.0" fill="none" stroke="#3b6ff0" stroke-width="1" stroke-linejoin="round" opacity="0.27"/>
<polyline points="535.3,1045.0 538.9,1037.7 542.6,1034.0 546.2,1034.0 549.8,1031.2 553.5,1024.0 557.1,1019.7 560.8,1023.0 564.4,1029.0 568.1,1030.2 571.7,1028.2 575.3,1029.6" fill="none" stroke="#3b6ff0" stroke-width="1" stroke-linejoin="round" opacity="0.23"/>
<polyline points="579.2,1034.9 582.9,1035.5 586.5,1029.1 590.2,1022.7 593.8,1022.3 597.4,1024.4 601.1,1022.8" fill="none" stroke="#3b6ff0" stroke-width="1" stroke-linejoin="round" opacity="0.27"/>
<polyline points="608.8,1022.5 612.5,1031.5 616.1,1038.0 619.7,1038.3 623.4,1037.9 627.0,1041.6" fill="none" stroke="#3b6ff0" stroke-width="1" stroke-linejoin="round" opacity="0.11"/>
<polyline points="631.8,1045.0 635.5,1039.7 639.1,1032.4 642.7,1030.8 646.4,1033.7 650.0,1034.0 653.7,1030.8 657.3,1030.9 660.9,1037.2 664.6,1043.4 668.2,1042.8 671.9,1038.0" fill="none" stroke="#3b6ff0" stroke-width="1" stroke-linejoin="round" opacity="0.12"/>
<polyline points="678.6,1037.3 682.3,1035.1 685.9,1026.9 689.6,1019.3 693.2,1018.9" fill="none" stroke="#3b6ff0" stroke-width="1" stroke-linejoin="round" opacity="0.15"/>
<polyline points="700.2,1023.5 703.8,1021.5 707.5,1023.0 711.1,1030.2 714.7,1036.1 718.4,1034.8 722.0,1030.2 725.7,1029.3 729.3,1031.5" fill="none" stroke="#3b6ff0" stroke-width="1" stroke-linejoin="round" opacity="0.16"/>
<polyline points="731.5,1031.3 735.1,1026.5 738.8,1021.4 742.4,1023.2 746.1,1030.4 749.7,1035.0 753.3,1035.1" fill="none" stroke="#3b6ff0" stroke-width="1" stroke-linejoin="round" opacity="0.15"/>
<polyline points="761.3,1044.9 765.0,1048.9 768.6,1045.1 772.3,1038.5 775.9,1036.3 779.5,1037.0" fill="none" stroke="#3b6ff0" stroke-width="1" stroke-linejoin="round" opacity="0.21"/>
<polyline points="784.2,1032.3 787.9,1026.1 791.5,1025.7 795.2,1031.7 798.8,1036.0 802.4,1034.7 806.1,1032.9" fill="none" stroke="#3b6ff0" stroke-width="1" stroke-linejoin="round" opacity="0.17"/>
<polyline points="809.6,1035.4 813.3,1038.6 816.9,1035.3 820.5,1026.8 824.2,1021.3" fill="none" stroke="#3b6ff0" stroke-width="1" stroke-linejoin="round" opacity="0.16"/>
<polyline points="102.9,1091.5 106.5,1096.7 110.2,1101.8 113.8,1101.9 117.4,1100.9" fill="none" stroke="#3b6ff0" stroke-width="1" stroke-linejoin="round" opacity="0.11"/>
<polyline points="119.8,1102.3 123.4,1107.1 127.1,1108.4 130.7,1102.0 134.4,1093.2 138.0,1089.5 141.6,1089.9 145.3,1088.2 148.9,1083.5 152.6,1082.4" fill="none" stroke="#3b6ff0" stroke-width="1" stroke-linejoin="round" opacity="0.13"/>
<polyline points="154.3,1084.6 157.9,1092.4 161.5,1097.5 165.2,1096.1 168.8,1093.3 172.5,1094.5 176.1,1096.4" fill="none" stroke="#3b6ff0" stroke-width="1" stroke-linejoin="round" opacity="0.28"/>
<polyline points="182.6,1087.4 186.3,1083.0 189.9,1086.2 193.6,1092.5 197.2,1095.3 200.8,1095.6 204.5,1099.5 208.1,1107.3 211.8,1111.6 215.4,1108.0" fill="none" stroke="#3b6ff0" stroke-width="1" stroke-linejoin="round" opacity="0.18"/>
<polyline points="219.3,1101.3 223.0,1099.5 226.6,1100.5 230.3,1098.1 233.9,1092.7 237.5,1091.3 241.2,1097.0 244.8,1103.5 248.5,1104.1" fill="none" stroke="#3b6ff0" stroke-width="1" stroke-linejoin="round" opacity="0.10"/>
<polyline points="254.1,1100.0 257.7,1101.3 261.4,1101.8 265.0,1095.9 268.6,1086.5" fill="none" stroke="#3b6ff0" stroke-width="1" stroke-linejoin="round" opacity="0.27"/>
<polyline points="279.5,1086.8 283.1,1085.9 286.8,1085.3 290.4,1090.4 294.0,1098.3 297.7,1101.0 301.3,1096.9 305.0,1092.8 308.6,1093.3 312.2,1094.6 315.9,1091.5" fill="none" stroke="#3b6ff0" stroke-width="1" stroke-linejoin="round" opacity="0.16"/>
<polyline points="320.3,1086.3 323.9,1089.2 327.5,1097.6 331.2,1103.6 334.8,1104.0 338.5,1104.2 342.1,1108.2 345.8,1111.5 349.4,1107.8 353.0,1099.3 356.7,1094.1" fill="none" stroke="#3b6ff0" stroke-width="1" stroke-linejoin="round" opacity="0.11"/>
<polyline points="361.4,1095.6 365.1,1095.9 368.7,1092.7 372.3,1091.7 376.0,1097.0 379.6,1103.5 383.3,1103.5 386.9,1098.0 390.5,1094.0" fill="none" stroke="#3b6ff0" stroke-width="1" stroke-linejoin="round" opacity="0.23"/>
<polyline points="394.1,1093.9 397.8,1092.4 401.4,1085.8 405.1,1079.3 408.7,1080.0 412.3,1086.5 416.0,1091.2" fill="none" stroke="#3b6ff0" stroke-width="1" stroke-linejoin="round" opacity="0.12"/>
<polyline points="417.4,1091.7 421.1,1091.5 424.7,1094.4 428.3,1100.9 432.0,1103.7 435.6,1099.2 439.3,1092.8" fill="none" stroke="#3b6ff0" stroke-width="1" stroke-linejoin="round" opacity="0.20"/>
<polyline points="447.5,1095.1 451.2,1094.3 454.8,1092.0 458.4,1094.7 462.1,1103.2 465.7,1109.9" fill="none" stroke="#3b6ff0" stroke-width="1" stroke-linejoin="round" opacity="0.11"/>
<polyline points="468.4,1110.2 472.0,1106.7 475.6,1105.2 479.3,1106.5 482.9,1104.5 486.6,1096.7 490.2,1089.1 493.8,1088.6 497.5,1092.9 501.1,1094.7" fill="none" stroke="#3b6ff0" stroke-width="1" stroke-linejoin="round" opacity="0.27"/>
<polyline points="506.2,1092.3 509.8,1094.8 513.5,1100.4 517.1,1101.7 520.7,1095.7" fill="none" stroke="#3b6ff0" stroke-width="1" stroke-linejoin="round" opacity="0.15"/>
<polyline points="528.5,1086.7 532.2,1087.5 535.8,1084.8 539.5,1080.7 543.1,1082.4" fill="none" stroke="#3b6ff0" stroke-width="1" stroke-linejoin="round" opacity="0.15"/>
<polyline points="544.6,1085.3 548.2,1094.4 551.9,1099.5 555.5,1098.9 559.1,1098.8 562.8,1102.4 566.4,1104.6 570.1,1100.3 573.7,1093.1 577.3,1091.0" fill="none" stroke="#3b6ff0" stroke-width="1" stroke-linejoin="round" opacity="0.24"/>
<polyline points="584.2,1098.7 587.8,1098.7 591.5,1098.3 595.1,1103.1 598.8,1110.2 602.4,1111.7 606.0,1106.0 609.7,1099.8 613.3,1098.2 617.0,1097.4 620.6,1092.2" fill="none" stroke="#3b6ff0" stroke-width="1" stroke-linejoin="round" opacity="0.13"/>
<polyline points="626.5,1083.8 630.1,1087.5 633.8,1094.0 637.4,1095.8 641.1,1093.7 644.7,1093.9 648.3,1097.6 652.0,1098.1" fill="none" stroke="#3b6ff0" stroke-width="1" stroke-linejoin="round" opacity="0.23"/>
<polyline points="660.5,1082.8 664.2,1083.6 667.8,1087.3 671.4,1087.8 675.1,1086.9 678.7,1091.0 682.4,1100.2" fill="none" stroke="#3b6ff0" stroke-width="1" stroke-linejoin="round" opacity="0.23"/>
<polyline points="688.8,1106.4 692.4,1102.5 696.0,1101.1 699.7,1102.9 703.3,1101.8 707.0,1095.7 710.6,1091.1" fill="none" stroke="#3b6ff0" stroke-width="1" stroke-linejoin="round" opacity="0.20"/>
<polyline points="716.6,1098.2 720.2,1103.2 723.9,1103.0 727.5,1102.1 731.1,1105.3" fill="none" stroke="#3b6ff0" stroke-width="1" stroke-linejoin="round" opacity="0.19"/>
<polyline points="737.1,1107.9 740.7,1100.5 744.3,1091.9 748.0,1089.0 751.6,1089.8" fill="none" stroke="#3b6ff0" stroke-width="1" stroke-linejoin="round" opacity="0.25"/>
<polyline points="758.2,1084.5 761.9,1083.4 765.5,1089.1 769.2,1096.6 772.8,1098.1 776.4,1094.6 780.1,1092.8 783.7,1094.7" fill="none" stroke="#3b6ff0" stroke-width="1" stroke-linejoin="round" opacity="0.18"/>
<polyline points="789.2,1092.1 792.9,1085.1 796.5,1082.3 800.1,1087.0 803.8,1093.6 807.4,1095.9 811.1,1096.5 814.7,1101.1 818.3,1108.5" fill="none" stroke="#3b6ff0" stroke-width="1" stroke-linejoin="round" opacity="0.11"/>
<polyline points="102.9,1307.6 106.5,1307.7 110.2,1307.0 113.8,1307.0 117.4,1307.9 121.1,1308.0 124.7,1305.8 128.4,1301.6 132.0,1298.0 135.6,1297.2 139.3,1299.1" fill="none" stroke="#3b6ff0" stroke-width="1" stroke-linejoin="round" opacity="0.17"/>
<polyline points="141.3,1300.4 145.0,1302.1 148.6,1302.4 152.3,1302.8 155.9,1304.5 159.5,1306.9" fill="none" stroke="#3b6ff0" stroke-width="1" stroke-linejoin="round" opacity="0.21"/>
<polyline points="167.5,1305.5 171.2,1302.2 174.8,1300.6 178.4,1301.8 182.1,1304.4 185.7,1306.3 189.4,1306.9 193.0,1307.5 196.7,1309.5 200.3,1312.1 203.9,1313.2 207.6,1311.2" fill="none" stroke="#3b6ff0" stroke-width="1" stroke-linejoin="round" opacity="0.14"/>
<polyline points="209.3,1309.4 213.0,1305.3 216.6,1303.1 220.3,1303.3 223.9,1304.4 227.5,1304.5 231.2,1303.7 234.8,1303.7 238.5,1305.4 242.1,1307.7" fill="none" stroke="#3b6ff0" stroke-width="1" stroke-linejoin="round" opacity="0.13"/>
<polyline points="246.0,1308.0 249.7,1305.3 253.3,1301.3 256.9,1298.7 260.6,1298.5" fill="none" stroke="#3b6ff0" stroke-width="1" stroke-linejoin="round" opacity="0.17"/>
<polyline points="267.7,1300.3 271.4,1300.2 275.0,1300.8 278.7,1303.4 282.3,1307.2 285.9,1309.7 289.6,1309.2 293.2,1306.5" fill="none" stroke="#3b6ff0" stroke-width="1" stroke-linejoin="round" opacity="0.11"/>
<polyline points="301.5,1304.1 305.1,1305.2 308.7,1305.6 312.4,1305.1 316.0,1305.3 319.7,1307.5 323.3,1311.0 326.9,1313.2" fill="none" stroke="#3b6ff0" stroke-width="1" stroke-linejoin="round" opacity="0.15"/>
<polyline points="330.8,1312.1 334.4,1308.7 338.0,1305.5 341.7,1304.1 345.3,1303.9 349.0,1303.0 352.6,1301.2 356.2,1300.0 359.9,1301.1 363.5,1304.2" fill="none" stroke="#3b6ff0" stroke-width="1" stroke-linejoin="round" opacity="0.09"/>
<polyline points="366.6,1306.6 370.2,1307.3 373.9,1305.2 377.5,1302.4 381.1,1300.9 384.8,1301.0" fill="none" stroke="#3b6ff0" stroke-width="1" stroke-linejoin="round" opacity="0.15"/>
<polyline points="392.8,1299.9 396.5,1299.0 400.1,1300.4 403.8,1304.3 407.4,1308.6 411.0,1310.6 414.7,1309.9 418.3,1308.1 422.0,1307.2 425.6,1307.5" fill="none" stroke="#3b6ff0" stroke-width="1" stroke-linejoin="round" opacity="0.18"/>
<polyline points="431.4,1306.6 435.0,1304.5 438.7,1303.2 442.3,1304.6 446.0,1308.0" fill="none" stroke="#3b6ff0" stroke-width="1" stroke-linejoin="round" opacity="0.19"/>
<polyline points="453.1,1311.4 456.8,1309.4 460.4,1307.1 464.1,1305.9 467.7,1305.3 471.3,1303.7 475.0,1300.7 478.6,1298.0 482.3,1297.8 485.9,1300.5" fill="none" stroke="#3b6ff0" stroke-width="1" stroke-linejoin="round" opacity="0.08"/>
<polyline points="493.3,1305.7 497.0,1305.1 500.6,1303.8 504.3,1303.6 507.9,1304.2 511.5,1304.0 515.2,1302.0 518.8,1299.7 522.5,1299.4 526.1,1302.2 529.7,1306.4 533.4,1309.4" fill="none" stroke="#3b6ff0" stroke-width="1" stroke-linejoin="round" opacity="0.08"/>
<polyline points="539.4,1309.8 543.0,1309.5 546.7,1310.1 550.3,1310.5 554.0,1309.1" fill="none" stroke="#3b6ff0" stroke-width="1" stroke-linejoin="round" opacity="0.18"/>
<polyline points="560.4,1303.3 564.0,1302.1 567.6,1303.9 571.3,1306.8 574.9,1308.4 578.6,1307.9 582.2,1306.7" fill="none" stroke="#3b6ff0" stroke-width="1" stroke-linejoin="round" opacity="0.09"/>
<polyline points="583.7,1306.5 587.3,1306.6 590.9,1306.8 594.6,1305.1 598.2,1301.4 601.9,1297.7 605.5,1296.6 609.1,1298.5 612.8,1301.6 616.4,1303.4 620.1,1303.7 623.7,1303.9" fill="none" stroke="#3b6ff0" stroke-width="1" stroke-linejoin="round" opacity="0.11"/>
<polyline points="630.6,1307.0 634.2,1307.5 637.9,1305.6 641.5,1302.4 645.1,1300.7 648.8,1301.9 652.4,1305.0" fill="none" stroke="#3b6ff0" stroke-width="1" stroke-linejoin="round" opacity="0.20"/>
<polyline points="661.1,1308.5 664.7,1308.9 668.4,1310.5 672.0,1312.3 675.6,1312.1 679.3,1309.2 682.9,1304.9 686.6,1302.2" fill="none" stroke="#3b6ff0" stroke-width="1" stroke-linejoin="round" opacity="0.15"/>
<polyline points="691.0,1302.5 694.7,1304.1 698.3,1304.8 702.0,1304.3 705.6,1304.1" fill="none" stroke="#3b6ff0" stroke-width="1" stroke-linejoin="round" opacity="0.21"/>
<polyline points="707.8,1304.7 711.5,1306.5 715.1,1307.5 718.8,1305.8 722.4,1302.0 726.0,1298.5 729.7,1297.5 733.3,1298.9 737.0,1300.8 740.6,1301.5 744.2,1301.9 747.9,1303.5" fill="none" stroke="#3b6ff0" stroke-width="1" stroke-linejoin="round" opacity="0.12"/>
<polyline points="756.2,1310.0 759.8,1309.6 763.4,1306.8 767.1,1304.0 770.7,1303.3 774.4,1304.6 778.0,1306.1 781.6,1306.3 785.3,1306.2" fill="none" stroke="#3b6ff0" stroke-width="1" stroke-linejoin="round" opacity="0.22"/>
<polyline points="795.8,1312.4 799.4,1312.7 803.0,1309.9 806.7,1305.8 810.3,1303.1 814.0,1302.5 817.6,1302.6 821.2,1302.0 824.9,1300.8" fill="none" stroke="#3b6ff0" stroke-width="1" stroke-linejoin="round" opacity="0.08"/>
<polyline points="102.9,1233.6 106.5,1236.8 110.2,1242.5 113.8,1245.8 117.4,1244.6 121.1,1241.9 124.7,1241.1 128.4,1241.6 132.0,1240.5 135.6,1238.5 139.3,1239.1 142.9,1243.5" fill="none" stroke="#3b6ff0" stroke-width="1" stroke-linejoin="round" opacity="0.06"/>
<polyline points="147.2,1247.9 150.8,1247.1 154.5,1243.6 158.1,1241.3 161.7,1240.6 165.4,1238.7 169.0,1235.4" fill="none" stroke="#3b6ff0" stroke-width="1" stroke-linejoin="round" opacity="0.09"/>
<polyline points="172.4,1233.9 176.0,1236.4 179.6,1240.8 183.3,1242.4 186.9,1240.0 190.6,1237.2 194.2,1236.4 197.8,1236.0 201.5,1233.7" fill="none" stroke="#3b6ff0" stroke-width="1" stroke-linejoin="round" opacity="0.05"/>
<polyline points="207.2,1231.6 210.9,1235.6 214.5,1241.0 218.1,1243.2 221.8,1241.9 225.4,1240.6 229.1,1241.0" fill="none" stroke="#3b6ff0" stroke-width="1" stroke-linejoin="round" opacity="0.07"/>
<polyline points="231.7,1241.2 235.4,1239.5 239.0,1236.9 242.7,1237.6 246.3,1242.3 249.9,1246.9 253.6,1247.4 257.2,1245.3 260.9,1243.9 264.5,1243.7" fill="none" stroke="#3b6ff0" stroke-width="1" stroke-linejoin="round" opacity="0.07"/>
<polyline points="270.8,1238.8 274.5,1235.5 278.1,1236.3 281.8,1240.4 285.4,1243.1 289.0,1242.1 292.7,1239.7" fill="none" stroke="#3b6ff0" stroke-width="1" stroke-linejoin="round" opacity="0.04"/>
<polyline points="302.7,1236.4 306.4,1232.4 310.0,1230.4 313.7,1233.2 317.3,1238.1 320.9,1240.7" fill="none" stroke="#3b6ff0" stroke-width="1" stroke-linejoin="round" opacity="0.07"/>
<polyline points="326.4,1239.6 330.0,1239.8 333.6,1240.7 337.3,1239.4 340.9,1236.0 344.6,1234.7 348.2,1238.1 351.8,1243.3" fill="none" stroke="#3b6ff0" stroke-width="1" stroke-linejoin="round" opacity="0.09"/>
<polyline points="358.9,1245.4 362.5,1244.9 366.2,1245.6 369.8,1245.0 373.5,1241.4 377.1,1237.2 380.7,1237.0 384.4,1240.6 388.0,1243.7" fill="none" stroke="#3b6ff0" stroke-width="1" stroke-linejoin="round" opacity="0.05"/>
<polyline points="395.9,1241.8 399.5,1241.7 403.2,1241.3 406.8,1237.8 410.5,1232.8 414.1,1230.9 417.7,1233.7 421.4,1237.6 425.0,1238.9 428.7,1238.4" fill="none" stroke="#3b6ff0" stroke-width="1" stroke-linejoin="round" opacity="0.10"/>
<polyline points="433.8,1239.5 437.4,1240.4 441.1,1238.1 444.7,1234.0 448.4,1232.8" fill="none" stroke="#3b6ff0" stroke-width="1" stroke-linejoin="round" opacity="0.09"/>
<polyline points="453.4,1238.1 457.0,1242.1 460.6,1243.1 464.3,1243.5" fill="none" stroke="#3b6ff0" stroke-width="1" stroke-linejoin="round" opacity="0.07"/>
<polyline points="466.5,1244.3 470.1,1246.2 473.8,1245.5 477.4,1241.4" fill="none" stroke="#3b6ff0" stroke-width="1" stroke-linejoin="round" opacity="0.04"/>
<polyline points="484.8,1238.2 488.4,1241.8 492.1,1244.1 495.7,1243.7 499.4,1243.4 503.0,1244.5 506.6,1244.4 510.3,1240.5 513.9,1235.0 517.6,1232.6" fill="none" stroke="#3b6ff0" stroke-width="1" stroke-linejoin="round" opacity="0.05"/>
<polyline points="527.4,1238.1 531.0,1237.7 534.7,1238.4 538.3,1240.4 542.0,1240.3 545.6,1236.4 549.2,1232.2 552.9,1232.0 556.5,1235.5 560.2,1238.7" fill="none" stroke="#3b6ff0" stroke-width="1" stroke-linejoin="round" opacity="0.06"/>
<polyline points="567.7,1241.1 571.4,1244.0 575.0,1245.9 578.7,1243.8 582.3,1239.3 585.9,1237.2 589.6,1239.3 593.2,1242.4 596.9,1243.4" fill="none" stroke="#3b6ff0" stroke-width="1" stroke-linejoin="round" opacity="0.07"/>
<polyline points="600.6,1243.4 604.2,1245.1 607.9,1247.3 611.5,1246.0 615.2,1240.9 618.8,1236.1 622.4,1235.4 626.1,1237.3 629.7,1238.3 633.4,1237.8 637.0,1238.5" fill="none" stroke="#3b6ff0" stroke-width="1" stroke-linejoin="round" opacity="0.10"/>
<polyline points="639.8,1240.4 643.5,1242.1 647.1,1239.7 650.8,1234.6 654.4,1231.5 658.0,1232.6 661.7,1235.2 665.3,1236.3 669.0,1237.0 672.6,1239.8 676.2,1243.7" fill="none" stroke="#3b6ff0" stroke-width="1" stroke-linejoin="round" opacity="0.07"/>
<polyline points="682.5,1242.4 686.1,1238.1 689.7,1236.7 693.4,1238.7 697.0,1241.0 700.7,1241.5 704.3,1242.4 707.9,1245.5 711.6,1248.6 715.2,1247.6 718.9,1242.7 722.5,1238.5" fill="none" stroke="#3b6ff0" stroke-width="1" stroke-linejoin="round" opacity="0.07"/>
<polyline points="724.3,1237.8 727.9,1238.6 731.5,1239.3 735.2,1238.5 738.8,1238.6 742.5,1241.2 746.1,1243.8 749.7,1242.4 753.4,1237.3" fill="none" stroke="#3b6ff0" stroke-width="1" stroke-linejoin="round" opacity="0.05"/>
<polyline points="760.0,1232.8 763.7,1234.1 767.3,1234.4 771.0,1234.2 774.6,1236.2 778.2,1240.6 781.9,1243.3 785.5,1241.5 789.2,1237.4" fill="none" stroke="#3b6ff0" stroke-width="1" stroke-linejoin="round" opacity="0.09"/>
<polyline points="797.0,1237.5 800.7,1238.7 804.3,1238.7 808.0,1240.3" fill="none" stroke="#3b6ff0" stroke-width="1" stroke-linejoin="round" opacity="0.08"/>
<polyline points="810.6,1243.4 814.3,1247.8 817.9,1248.5 821.6,1244.8 825.2,1240.9" fill="none" stroke="#3b6ff0" stroke-width="1" stroke-linejoin="round" opacity="0.10"/>
<polyline points="159.01,1035.26 165.07,1030.97 170.23,1030.49 178.73,1035.73" fill="none" stroke="#3b86f0" stroke-width="1" stroke-linejoin="round" opacity="0.45"/>
<polyline points="257.6,1030.97 265.19,1026.2 271.25,1027.16 277.32,1030.97" fill="none" stroke="#3b86f0" stroke-width="1" stroke-linejoin="round" opacity="0.5"/>
<line x1="265.19" y1="1026.2" x2="268.22" y2="1026.68" stroke="#38c6d8" stroke-width="1.2" opacity="0.9"/>
<polyline points="395.64,1034.78 401.71,1025.25 406.26,1025.25 412.32,1022.87" fill="none" stroke="#3b86f0" stroke-width="1" stroke-linejoin="round" opacity="0.3"/>
<polyline points="497.27,1035.73 503.34,1038.59 510.92,1040.5" fill="none" stroke="#3b86f0" stroke-width="1" stroke-linejoin="round" opacity="0.3"/>
<polyline points="530.64,1042.4 536.71,1040.5 544.29,1041.45 551.87,1045.26" fill="none" stroke="#3b86f0" stroke-width="1" stroke-linejoin="round" opacity="0.5"/>
<line x1="536.71" y1="1040.5" x2="540.5" y2="1040.97" stroke="#38c6d8" stroke-width="1.2" opacity="0.9"/>
<polyline points="633.79,1029.06 645.92,1028.11 653.51,1025.25" fill="none" stroke="#3b86f0" stroke-width="1" stroke-linejoin="round" opacity="0.6"/>
<line x1="645.92" y1="1028.11" x2="649.71" y2="1026.68" stroke="#38c6d8" stroke-width="1.2" opacity="0.9"/>
<polyline points="764.24,1034.78 771.82,1030.01 779.41,1032.87 785.47,1036.69" fill="none" stroke="#3b86f0" stroke-width="1" stroke-linejoin="round" opacity="0.4"/>
<polyline points="159.01,1091.96 165.07,1095.77 174.17,1096.25 181.76,1099.58" fill="none" stroke="#3b86f0" stroke-width="1" stroke-linejoin="round" opacity="0.5"/>
<line x1="165.07" y1="1095.77" x2="169.62" y2="1096.01" stroke="#38c6d8" stroke-width="1.2" opacity="0.9"/>
<polyline points="263.67,1103.4 269.74,1097.68 275.8,1092.91 281.87,1089.1" fill="none" stroke="#3b86f0" stroke-width="1" stroke-linejoin="round" opacity="0.35"/>
<polyline points="398.67,1097.2 409.29,1095.77 418.39,1096.25" fill="none" stroke="#3b86f0" stroke-width="1" stroke-linejoin="round" opacity="0.4"/>
<polyline points="498.78,1101.49 504.85,1094.82 509.4,1089.1" fill="none" stroke="#3b86f0" stroke-width="1" stroke-linejoin="round" opacity="0.25"/>
<polyline points="635.3,1101.49 642.89,1097.2 648.95,1092.91" fill="none" stroke="#3b86f0" stroke-width="1" stroke-linejoin="round" opacity="0.4"/>
<polyline points="767.27,1095.77 773.94,1098.63 780.92,1094.82 785.47,1095.77" fill="none" stroke="#3b86f0" stroke-width="1" stroke-linejoin="round" opacity="0.5"/>
<line x1="773.94" y1="1098.63" x2="777.43" y2="1096.72" stroke="#38c6d8" stroke-width="1.2" opacity="0.9"/>
<polyline points="160.52,1301.62 172.66,1305.43 184.79,1301.62 196.93,1307.34 221.2,1305.43 242.43,1301.62" fill="none" stroke="#3b86f0" stroke-width="1" stroke-linejoin="round" opacity="0.23"/>
<polyline points="397.15,1299.71 406.26,1304.48 418.39,1305.43 427.49,1301.62" fill="none" stroke="#3b86f0" stroke-width="1" stroke-linejoin="round" opacity="0.25"/>
<polyline points="630.75,1302.57 645.92,1301.62 661.09,1299.71" fill="none" stroke="#3b86f0" stroke-width="1" stroke-linejoin="round" opacity="0.17"/>
</g>
<line class="wl" x1="152.2" y1="895.3" x2="153.8" y2="1015.7"/>
<line class="wl" x1="273.1" y1="896.4" x2="267.7" y2="1006.9"/>
<line class="wl" x1="401.8" y1="894.3" x2="405.6" y2="1010.5"/>
<line class="wl" x1="532.6" y1="902" x2="534.7" y2="1022"/>
<line class="wl" x1="640" y1="890.5" x2="641.8" y2="1010.5"/>
<line class="wl" x1="762.4" y1="891.2" x2="777.7" y2="1010.5"/>
<text class="lt" transform="translate(152.9 870.6) scale(1 1.04)" text-anchor="middle">A</text>
<text class="lt" transform="translate(272.1 870.6) scale(1 1.04)" text-anchor="middle">B</text>
<text class="lt" transform="translate(403.2 872.7) scale(1 1.04)" text-anchor="middle">C</text>
<text class="lt" transform="translate(532.8 868.9) scale(1 1.04)" text-anchor="middle">D</text>
<text class="lt" transform="translate(643 868.9) scale(1 1.04)" text-anchor="middle">E</text>
<text class="lt" transform="translate(760.6 870.6) scale(1 1.04)" text-anchor="middle">F</text>
<path class="tc" d="M251.54 1358.8V1350.2M251.54 787V795.6M403.22 1358.8V1350.2M403.22 787V795.6M554.91 1358.8V1350.2M554.91 787V795.6M706.6 1358.8V1350.2M706.6 787V795.6M100 1358.8H108.6M828.4 1358.8H819.8M100 1263.5H108.6M828.4 1263.5H819.8M100 1168.2H108.6M828.4 1168.2H819.8M100 1072.9H108.6M828.4 1072.9H819.8M100 977.6H108.6M828.4 977.6H819.8M100 882.3H108.6M828.4 882.3H819.8M100 787H108.6M828.4 787H819.8"/>
<rect class="fr" x="100" y="787" width="728.4" height="571.8"/>
<text class="tk" transform="translate(251.54 1391.9) scale(1 1.04)" text-anchor="middle">500</text>
<text class="tk" transform="translate(403.22 1391.9) scale(1 1.04)" text-anchor="middle">1000</text>
<text class="tk" transform="translate(554.91 1391.9) scale(1 1.04)" text-anchor="middle">1500</text>
<text class="tk" transform="translate(706.6 1391.9) scale(1 1.04)" text-anchor="middle">2000</text>
<text class="tk" transform="translate(90.7 1368.9) scale(1 1.04)" text-anchor="end">0</text>
<text class="tk" transform="translate(90.7 1273.6) scale(1 1.04)" text-anchor="end">1000</text>
<text class="tk" transform="translate(90.7 1178.3) scale(1 1.04)" text-anchor="end">2000</text>
<text class="tk" transform="translate(90.7 1083) scale(1 1.04)" text-anchor="end">3000</text>
<text class="tk" transform="translate(90.7 987.7) scale(1 1.04)" text-anchor="end">4000</text>
<text class="tk" transform="translate(90.7 892.4) scale(1 1.04)" text-anchor="end">5000</text>
<text class="tk" transform="translate(90.7 797.1) scale(1 1.04)" text-anchor="end">6000</text>
<text class="lb" transform="translate(463.7 1426.4) scale(1 1.02)" text-anchor="middle">Time / S</text>
<text class="lb" transform="translate(28.2 1072.9) rotate(-90) scale(1 1.02)" text-anchor="middle">Frequency(Hz)</text>
<text class="tt" style="font-size:35.78px" transform="translate(463.7 771.8) scale(1 1.02)" text-anchor="middle">TFR employing the 8th order MSST</text>
<text class="pn" transform="translate(0 777.5) scale(1 1.02)">(i)</text>
</g>
<g id="panel-j">
<rect x="1039" y="787" width="728.2" height="571.8" fill="#3e26a8"/>
<clipPath id="cp-j"><rect x="1039" y="787" width="728.2" height="571.8"/></clipPath>
<g clip-path="url(#cp-j)">
<path d="M1317.6 1005.6L1328.7 986.7L1339.5 999.8L1352.1 983.1M1645.7 1007.8L1660.6 1019.6L1668.6 1000.7L1679.7 1008.7L1690.9 994.7L1699.1 1014.4M1385.0 1048.7L1397.2 1073.1L1403.2 1061.3M1175.2 1039.9L1181.7 1047.4L1187.4 1029.1M1106.4 1032.1L1116.0 1012.2L1126.7 1034.7M1144.3 1019.3L1159.3 1038.5L1173.4 1024.9M1423.5 1007.1L1431.1 1019.8L1441.0 1000.3M1523.4 1008.8L1531.6 1031.6L1540.2 1008.2L1549.3 1030.8M1198.3 1044.2L1205.5 1062.6L1211.6 1052.4L1222.6 1061.1M1528.8 1014.0L1540.1 994.7L1550.9 1009.9M1633.2 1045.9L1644.9 1061.4L1656.7 1052.3M1096.2 1044.2L1110.7 1021.2L1119.1 1029.8L1132.8 1012.4L1146.4 1034.7M1262.0 1020.5L1268.4 1035.2L1278.1 1020.3L1292.3 1031.5L1300.2 1016.8L1311.2 1029.7M1629.7 1017.3L1639.2 1032.5L1653.5 1015.7M1163.5 1047.4L1169.2 1026.0L1177.3 1032.2L1190.2 1012.6L1199.4 1021.9L1210.0 1005.0M1451.4 1045.4L1459.5 1052.8L1471.3 1029.2M1267.1 1035.5L1277.8 1058.3L1286.4 1044.2L1298.8 1059.7L1306.0 1052.6M1372.2 1046.9L1378.3 1052.9L1386.8 1029.6L1395.3 1035.6L1401.3 1021.8M1129.6 1009.5L1140.2 986.0L1148.3 1010.3M1597.1 1030.8L1609.0 1013.3L1621.3 1030.0L1628.3 1006.4L1641.6 1012.6L1649.7 1005.8M1247.9 1041.4L1254.0 1052.1L1265.0 1043.4L1279.0 1059.6L1291.4 1046.8M1609.0 1034.0L1614.9 1043.6L1623.2 1030.8L1630.3 1044.6L1636.6 1028.0L1651.5 1050.1M1566.4 1032.1L1577.2 1051.8L1591.1 1029.3L1597.5 1049.5L1609.7 1027.8L1624.5 1035.2M1738.8 1041.4L1745.7 1062.2L1757.4 1038.8L1765.2 1059.5L1765.2 1046.0L1765.2 1055.6M1107.2 1020.7L1114.6 997.0L1126.3 1018.0L1136.4 998.2M1063.6 1050.4L1078.1 1038.5L1086.0 1060.9M1167.5 1081.5L1173.7 1097.8L1188.3 1077.2M1751.0 1105.1L1757.9 1116.6L1765.2 1096.6L1765.2 1111.0L1765.2 1100.5M1409.6 1094.0L1419.7 1081.7L1428.9 1101.9L1435.8 1094.4L1445.6 1105.6L1455.6 1083.5M1703.9 1111.9L1710.4 1123.1L1718.4 1112.8L1727.1 1136.5M1422.3 1075.3L1430.0 1067.7L1439.6 1081.1L1446.4 1057.2L1452.0 1071.4L1459.9 1057.9M1330.2 1076.7L1338.3 1070.3L1351.1 1090.0L1358.5 1077.7L1372.2 1094.9L1379.3 1074.3M1547.6 1113.6L1560.7 1102.6L1567.8 1118.5L1574.6 1104.5L1581.2 1125.7L1591.6 1119.5M1086.4 1080.7L1097.6 1105.4L1112.4 1083.9L1121.0 1105.7L1135.6 1082.3M1435.5 1080.3L1442.2 1064.4L1453.6 1087.6M1518.0 1092.4L1524.3 1116.5L1534.3 1107.1M1121.2 1082.2L1127.1 1089.7L1142.1 1068.0L1152.8 1076.1L1161.5 1059.8L1169.5 1080.6M1242.7 1110.3L1251.5 1099.0L1266.6 1106.0L1276.3 1087.9L1290.0 1103.3L1299.5 1093.9M1701.6 1115.4L1713.1 1106.9L1721.0 1124.3L1728.6 1106.0L1741.6 1114.9M1501.8 1104.0L1511.6 1111.7L1519.6 1093.0L1527.2 1116.8M1645.2 1089.3L1658.5 1077.8L1671.5 1097.8L1686.1 1084.2L1692.7 1099.8M1586.2 1081.7L1597.0 1087.8L1610.8 1073.2L1619.5 1088.7L1626.8 1067.9M1102.9 1086.4L1110.2 1093.2L1123.1 1085.0L1134.1 1094.3L1147.4 1075.8M1305.8 1075.9L1314.1 1091.0L1327.5 1080.0L1342.0 1099.6M1552.1 1092.5L1562.9 1105.9L1573.7 1098.2L1585.4 1105.2L1592.1 1097.9L1606.8 1121.0M1194.9 1096.2L1205.9 1088.4L1214.1 1096.8L1221.9 1074.0L1232.2 1090.2L1239.1 1081.6M1459.0 1090.1L1465.2 1066.9L1478.0 1073.1L1487.2 1063.3M1108.9 1087.5L1116.4 1072.9L1127.5 1082.9M1175.8 1298.3L1190.9 1293.8L1198.2 1296.4L1209.8 1292.6L1223.8 1296.1L1233.5 1291.6M1360.6 1303.2L1369.7 1311.5L1380.8 1307.2L1387.7 1314.6M1626.0 1300.3L1638.3 1303.9L1646.9 1298.9L1657.6 1307.5M1488.6 1305.3L1499.3 1301.5L1513.2 1305.5L1518.9 1301.4M1338.5 1301.6L1351.0 1304.1L1365.0 1301.2L1378.1 1309.8L1393.2 1303.6M1358.5 1299.2L1365.0 1303.7L1372.6 1298.7L1385.6 1306.0L1398.4 1303.8M1572.7 1297.4L1581.9 1290.8L1589.5 1295.8L1598.6 1287.8M1490.6 1307.4L1503.0 1315.9L1513.5 1310.9L1527.3 1313.4L1537.0 1309.9L1548.4 1317.4M1131.6 1303.0L1139.7 1299.1L1146.9 1305.4M1466.6 1301.3L1479.7 1309.6L1488.3 1305.5L1498.9 1310.1L1511.6 1304.8M1224.4 1296.9L1236.4 1304.1L1247.7 1297.8L1257.9 1304.6L1264.2 1302.5M1614.5 1311.6L1620.5 1317.2L1628.2 1309.8L1633.9 1315.2L1648.6 1309.7M1613.3 1305.9L1619.9 1313.8L1626.4 1310.6L1637.6 1314.9L1645.8 1312.7L1653.1 1320.1M1549.2 1304.9L1562.0 1300.5L1568.2 1305.2M1537.3 1305.4L1549.0 1308.7L1557.4 1304.4M1678.8 1296.8L1686.1 1294.6L1694.3 1298.7M1703.6 1299.2L1718.4 1307.6L1729.8 1303.4L1738.2 1306.5M1343.3 1299.9L1352.8 1302.2L1367.9 1295.6L1379.3 1301.2L1394.4 1294.2M1316.8 1239.0L1326.0 1229.0L1333.6 1246.4L1339.7 1232.5L1350.0 1247.0L1362.1 1226.0M1171.6 1243.2L1185.7 1256.7L1199.6 1237.5L1214.1 1245.6L1226.9 1231.7L1238.7 1242.2M1278.0 1238.5L1286.4 1218.7L1298.9 1233.3L1305.4 1221.3M1201.1 1241.8L1213.6 1248.0L1228.2 1234.8L1236.6 1247.9L1244.0 1234.0M1648.4 1240.8L1663.0 1231.7L1671.4 1245.4L1678.4 1239.1L1692.1 1247.5M1064.2 1244.3L1079.2 1269.0L1087.2 1251.8L1095.9 1263.8L1109.3 1245.8L1119.9 1257.3M1632.5 1236.8L1638.5 1246.9L1651.3 1239.8L1666.0 1253.8L1677.6 1246.0M1602.4 1245.0L1608.8 1250.8L1621.8 1230.5L1628.9 1248.3M1117.0 1144.3L1123.5 1163.5L1130.2 1151.9M1399.8 1166.6L1413.0 1182.8L1427.7 1167.0M1754.4 1142.7L1763.4 1123.3L1765.2 1134.0L1765.2 1122.1L1765.2 1145.6L1765.2 1126.8M1235.0 1170.1L1246.4 1194.4L1255.9 1176.7M1085.8 1137.0L1094.2 1144.0L1102.2 1131.8L1110.6 1151.8L1124.2 1133.7L1134.0 1152.2M1427.8 1172.0L1436.6 1186.3L1443.2 1170.7L1448.7 1186.5M1364.9 913.5L1375.5 932.1L1383.7 916.5L1398.1 922.7M1247.2 918.2L1261.1 941.4L1275.7 932.5M1684.8 950.1L1694.3 971.6L1709.4 957.5L1719.2 968.9L1727.6 946.6M1600.2 913.8L1613.1 903.6L1619.9 912.6L1632.2 899.9L1641.9 915.8L1652.2 897.7M1197.6 967.9L1207.2 974.9L1218.4 958.1M1360.3 934.3L1368.8 947.8L1378.3 937.9M1721.1 972.1L1734.8 949.3L1745.2 973.9M1183.6 924.4L1196.2 906.5L1203.5 916.4M1065.2 1345.5L1075.4 1349.6L1084.4 1343.2L1098.8 1346.1M1252.4 1337.2L1258.0 1345.2L1270.6 1337.3L1279.0 1341.5M1370.4 1342.5L1384.1 1348.9L1394.2 1340.4M1338.2 1348.2L1344.2 1355.1L1349.7 1351.0L1364.6 1356.9" fill="none" stroke="#3c5ee6" stroke-width="1.1" stroke-linejoin="round" opacity="0.07"/>
<polyline points="1041.9,1016.6 1045.5,1021.3 1049.2,1025.4 1052.8,1026.1 1056.4,1028.4 1060.1,1034.5 1063.7,1037.9 1067.4,1033.1 1071.0,1025.1 1074.6,1023.4 1078.3,1028.6 1081.9,1033.5" fill="none" stroke="#3b6ff0" stroke-width="1" stroke-linejoin="round" opacity="0.16"/>
<polyline points="1089.1,1037.5 1092.7,1044.1 1096.3,1048.4 1100.0,1043.8 1103.6,1034.2 1107.3,1029.3 1110.9,1031.1 1114.5,1033.0 1118.2,1031.7 1121.8,1032.0 1125.5,1037.2" fill="none" stroke="#3b6ff0" stroke-width="1" stroke-linejoin="round" opacity="0.27"/>
<polyline points="1131.8,1038.4 1135.4,1028.7 1139.1,1020.8 1142.7,1020.2 1146.4,1022.3 1150.0,1021.8 1153.6,1022.0 1157.3,1028.1 1160.9,1036.3 1164.6,1037.7 1168.2,1031.2" fill="none" stroke="#3b6ff0" stroke-width="1" stroke-linejoin="round" opacity="0.24"/>
<polyline points="1172.8,1024.9 1176.5,1027.0 1180.1,1029.6 1183.8,1029.4 1187.4,1031.3" fill="none" stroke="#3b6ff0" stroke-width="1" stroke-linejoin="round" opacity="0.23"/>
<polyline points="1191.9,1041.7 1195.5,1048.5 1199.2,1046.0 1202.8,1038.1 1206.4,1033.6 1210.1,1033.8 1213.7,1032.7 1217.4,1029.2" fill="none" stroke="#3b6ff0" stroke-width="1" stroke-linejoin="round" opacity="0.14"/>
<polyline points="1224.0,1034.8 1227.6,1041.6 1231.3,1040.4 1234.9,1032.2 1238.5,1025.7" fill="none" stroke="#3b6ff0" stroke-width="1" stroke-linejoin="round" opacity="0.22"/>
<polyline points="1246.7,1022.3 1250.3,1018.4 1253.9,1019.1 1257.6,1027.4 1261.2,1035.7 1264.9,1035.9 1268.5,1030.5 1272.1,1027.7 1275.8,1028.9 1279.4,1028.5" fill="none" stroke="#3b6ff0" stroke-width="1" stroke-linejoin="round" opacity="0.18"/>
<polyline points="1286.8,1026.7 1290.5,1035.7 1294.1,1045.2 1297.7,1046.5" fill="none" stroke="#3b6ff0" stroke-width="1" stroke-linejoin="round" opacity="0.18"/>
<polyline points="1300.9,1042.2 1304.6,1038.5 1308.2,1038.0 1311.8,1035.8 1315.5,1029.8 1319.1,1026.7 1322.7,1031.8 1326.4,1039.8" fill="none" stroke="#3b6ff0" stroke-width="1" stroke-linejoin="round" opacity="0.11"/>
<polyline points="1330.7,1040.7 1334.3,1034.9 1337.9,1030.8 1341.6,1029.6 1345.2,1025.7 1348.9,1018.5 1352.5,1015.8" fill="none" stroke="#3b6ff0" stroke-width="1" stroke-linejoin="round" opacity="0.17"/>
<polyline points="1358.7,1029.0 1362.4,1034.1 1366.0,1032.3 1369.7,1030.1 1373.3,1031.3 1376.9,1031.1 1380.6,1026.0 1384.2,1021.9 1387.9,1026.2 1391.5,1036.5" fill="none" stroke="#3b6ff0" stroke-width="1" stroke-linejoin="round" opacity="0.25"/>
<polyline points="1395.5,1043.3 1399.2,1042.4 1402.8,1041.2 1406.5,1042.4" fill="none" stroke="#3b6ff0" stroke-width="1" stroke-linejoin="round" opacity="0.27"/>
<polyline points="1413.9,1032.9 1417.5,1026.5 1421.2,1028.7 1424.8,1036.2 1428.5,1039.8 1432.1,1037.5 1435.7,1035.2 1439.4,1035.4 1443.0,1032.9 1446.7,1024.2 1450.3,1016.3 1453.9,1017.2" fill="none" stroke="#3b6ff0" stroke-width="1" stroke-linejoin="round" opacity="0.27"/>
<polyline points="1462.7,1030.2 1466.3,1029.5 1469.9,1031.4 1473.6,1034.5 1477.2,1032.3 1480.9,1024.7 1484.5,1020.6 1488.1,1025.6" fill="none" stroke="#3b6ff0" stroke-width="1" stroke-linejoin="round" opacity="0.16"/>
<polyline points="1489.9,1029.8 1493.5,1036.9 1497.1,1038.8 1500.8,1040.0 1504.4,1044.0 1508.1,1045.8 1511.7,1039.8" fill="none" stroke="#3b6ff0" stroke-width="1" stroke-linejoin="round" opacity="0.27"/>
<polyline points="1518.8,1027.4 1522.4,1031.8 1526.1,1036.4 1529.7,1036.4 1533.3,1035.6 1537.0,1038.3 1540.6,1039.7 1544.3,1033.4" fill="none" stroke="#3b6ff0" stroke-width="1" stroke-linejoin="round" opacity="0.25"/>
<polyline points="1547.5,1023.8 1551.1,1017.5 1554.8,1019.8 1558.4,1024.6 1562.1,1025.7 1565.7,1026.4 1569.3,1031.1 1573.0,1036.3 1576.6,1034.2" fill="none" stroke="#3b6ff0" stroke-width="1" stroke-linejoin="round" opacity="0.12"/>
<polyline points="1582.7,1021.9 1586.3,1022.6 1590.0,1028.5 1593.6,1032.3 1597.2,1033.6 1600.9,1038.1 1604.5,1045.4 1608.2,1047.5 1611.8,1040.7 1615.4,1032.2" fill="none" stroke="#3b6ff0" stroke-width="1" stroke-linejoin="round" opacity="0.23"/>
<polyline points="1617.5,1030.1 1621.1,1031.8 1624.8,1034.3 1628.4,1033.3 1632.1,1033.4 1635.7,1038.4 1639.3,1042.9 1643.0,1039.0 1646.6,1028.8" fill="none" stroke="#3b6ff0" stroke-width="1" stroke-linejoin="round" opacity="0.28"/>
<polyline points="1648.6,1024.1 1652.2,1021.1 1655.8,1022.7 1659.5,1022.6 1663.1,1021.5 1666.8,1025.2 1670.4,1033.3 1674.0,1037.2 1677.7,1032.2 1681.3,1024.9" fill="none" stroke="#3b6ff0" stroke-width="1" stroke-linejoin="round" opacity="0.22"/>
<polyline points="1688.4,1026.4 1692.1,1027.7 1695.7,1027.6 1699.3,1032.0" fill="none" stroke="#3b6ff0" stroke-width="1" stroke-linejoin="round" opacity="0.25"/>
<polyline points="1702.7,1040.8 1706.3,1047.6 1710.0,1045.0 1713.6,1037.5 1717.3,1033.8" fill="none" stroke="#3b6ff0" stroke-width="1" stroke-linejoin="round" opacity="0.14"/>
<polyline points="1724.8,1033.3 1728.4,1030.2 1732.1,1031.7 1735.7,1039.1 1739.4,1044.2" fill="none" stroke="#3b6ff0" stroke-width="1" stroke-linejoin="round" opacity="0.24"/>
<polyline points="1742.2,1041.7 1745.8,1033.3 1749.5,1027.1 1753.1,1025.8 1756.8,1023.9 1760.4,1019.5 1764.0,1018.8" fill="none" stroke="#3b6ff0" stroke-width="1" stroke-linejoin="round" opacity="0.27"/>
<polyline points="1041.9,1094.1 1045.5,1095.9 1049.2,1095.9 1052.8,1092.5 1056.4,1087.0 1060.1,1082.7 1063.7,1082.9 1067.4,1088.6 1071.0,1097.0 1074.6,1104.2 1078.3,1107.2 1081.9,1106.3" fill="none" stroke="#3b6ff0" stroke-width="1" stroke-linejoin="round" opacity="0.17"/>
<polyline points="1089.4,1101.7 1093.1,1101.1 1096.7,1100.4 1100.4,1098.2 1104.0,1095.1 1107.6,1093.3" fill="none" stroke="#3b6ff0" stroke-width="1" stroke-linejoin="round" opacity="0.16"/>
<polyline points="1113.3,1097.3 1116.9,1103.0 1120.6,1106.8 1124.2,1105.8 1127.8,1099.7 1131.5,1091.6 1135.1,1085.3 1138.8,1083.1 1142.4,1084.5" fill="none" stroke="#3b6ff0" stroke-width="1" stroke-linejoin="round" opacity="0.13"/>
<polyline points="1150.0,1088.5 1153.7,1089.4 1157.3,1091.3 1161.0,1094.9 1164.6,1099.1 1168.2,1101.0 1171.9,1098.9 1175.5,1093.6 1179.2,1088.4 1182.8,1087.2" fill="none" stroke="#3b6ff0" stroke-width="1" stroke-linejoin="round" opacity="0.20"/>
<polyline points="1193.1,1104.3 1196.8,1108.2 1200.4,1108.3 1204.1,1106.2 1207.7,1104.3 1211.3,1103.1 1215.0,1101.5 1218.6,1098.0" fill="none" stroke="#3b6ff0" stroke-width="1" stroke-linejoin="round" opacity="0.12"/>
<polyline points="1228.6,1087.4 1232.3,1090.0 1235.9,1095.8 1239.6,1101.0 1243.2,1102.0 1246.8,1098.0" fill="none" stroke="#3b6ff0" stroke-width="1" stroke-linejoin="round" opacity="0.26"/>
<polyline points="1248.5,1095.1 1252.1,1088.5 1255.7,1084.4 1259.4,1083.8 1263.0,1085.5 1266.7,1087.4 1270.3,1088.6 1273.9,1090.2 1277.6,1093.8" fill="none" stroke="#3b6ff0" stroke-width="1" stroke-linejoin="round" opacity="0.10"/>
<polyline points="1283.4,1103.1 1287.1,1106.9 1290.7,1106.2 1294.4,1101.1 1298.0,1094.7 1301.6,1091.2 1305.3,1092.6 1308.9,1097.6 1312.6,1103.1 1316.2,1105.9 1319.8,1105.7 1323.5,1104.0" fill="none" stroke="#3b6ff0" stroke-width="1" stroke-linejoin="round" opacity="0.17"/>
<polyline points="1326.1,1102.9 1329.8,1101.9 1333.4,1100.5 1337.0,1096.8 1340.7,1090.8 1344.3,1084.6 1348.0,1081.6 1351.6,1083.9 1355.2,1090.1 1358.9,1096.6 1362.5,1099.6" fill="none" stroke="#3b6ff0" stroke-width="1" stroke-linejoin="round" opacity="0.10"/>
<polyline points="1369.9,1093.2 1373.5,1089.3 1377.2,1088.0 1380.8,1089.0 1384.4,1090.4 1388.1,1091.0" fill="none" stroke="#3b6ff0" stroke-width="1" stroke-linejoin="round" opacity="0.15"/>
<polyline points="1393.8,1092.8 1397.4,1096.9 1401.1,1103.5 1404.7,1109.6 1408.3,1111.9 1412.0,1108.6 1415.6,1101.7 1419.3,1095.0 1422.9,1092.0" fill="none" stroke="#3b6ff0" stroke-width="1" stroke-linejoin="round" opacity="0.12"/>
<polyline points="1427.7,1094.5 1431.4,1098.1 1435.0,1100.2 1438.6,1100.0 1442.3,1098.9 1445.9,1098.4" fill="none" stroke="#3b6ff0" stroke-width="1" stroke-linejoin="round" opacity="0.22"/>
<polyline points="1453.8,1097.5 1457.5,1093.3 1461.1,1086.6 1464.8,1080.6 1468.4,1078.8 1472.0,1082.6" fill="none" stroke="#3b6ff0" stroke-width="1" stroke-linejoin="round" opacity="0.18"/>
<polyline points="1480.4,1098.5 1484.1,1100.5 1487.7,1098.9 1491.3,1096.1 1495.0,1094.8" fill="none" stroke="#3b6ff0" stroke-width="1" stroke-linejoin="round" opacity="0.20"/>
<polyline points="1502.5,1095.8 1506.1,1095.3 1509.8,1094.1 1513.4,1094.4 1517.0,1098.0 1520.7,1104.5 1524.3,1110.6 1528.0,1112.7 1531.6,1109.2" fill="none" stroke="#3b6ff0" stroke-width="1" stroke-linejoin="round" opacity="0.19"/>
<polyline points="1539.0,1094.0 1542.6,1089.9 1546.3,1089.9 1549.9,1091.8 1553.5,1093.2 1557.2,1093.1 1560.8,1092.8 1564.5,1093.6 1568.1,1095.8" fill="none" stroke="#3b6ff0" stroke-width="1" stroke-linejoin="round" opacity="0.28"/>
<polyline points="1569.2,1096.4 1572.8,1097.3 1576.4,1094.7 1580.1,1088.8 1583.7,1082.6 1587.3,1079.9 1591.0,1082.9 1594.6,1090.1" fill="none" stroke="#3b6ff0" stroke-width="1" stroke-linejoin="round" opacity="0.17"/>
<polyline points="1598.5,1098.4 1602.2,1102.9 1605.8,1103.7 1609.4,1102.4 1613.1,1101.4 1616.7,1101.5 1620.4,1101.4" fill="none" stroke="#3b6ff0" stroke-width="1" stroke-linejoin="round" opacity="0.21"/>
<polyline points="1627.3,1096.8 1630.9,1093.9 1634.6,1093.9 1638.2,1098.0 1641.8,1104.3 1645.5,1109.0 1649.1,1108.8 1652.7,1103.3 1656.4,1095.5 1660.0,1089.2" fill="none" stroke="#3b6ff0" stroke-width="1" stroke-linejoin="round" opacity="0.27"/>
<polyline points="1662.2,1087.0 1665.9,1086.3 1669.5,1087.2 1673.2,1087.8 1676.8,1087.7 1680.4,1088.3 1684.1,1091.1 1687.7,1095.6 1691.3,1099.3 1695.0,1099.4" fill="none" stroke="#3b6ff0" stroke-width="1" stroke-linejoin="round" opacity="0.17"/>
<polyline points="1698.4,1095.4 1702.0,1089.3 1705.7,1085.0 1709.3,1085.6 1713.0,1091.0 1716.6,1098.3 1720.2,1104.0 1723.9,1106.2" fill="none" stroke="#3b6ff0" stroke-width="1" stroke-linejoin="round" opacity="0.24"/>
<polyline points="1729.1,1105.6 1732.8,1105.2 1736.4,1105.3 1740.1,1104.2 1743.7,1100.7 1747.3,1095.1 1751.0,1090.4" fill="none" stroke="#3b6ff0" stroke-width="1" stroke-linejoin="round" opacity="0.26"/>
<polyline points="1756.2,1090.5 1759.8,1095.6 1763.4,1101.5" fill="none" stroke="#3b6ff0" stroke-width="1" stroke-linejoin="round" opacity="0.20"/>
<polyline points="1041.9,1312.4 1045.5,1310.3 1049.2,1308.5 1052.8,1308.3 1056.4,1308.1 1060.1,1306.2 1063.7,1303.1 1067.4,1301.5 1071.0,1302.9 1074.6,1306.0 1078.3,1307.9" fill="none" stroke="#3b6ff0" stroke-width="1" stroke-linejoin="round" opacity="0.19"/>
<polyline points="1085.8,1305.7 1089.4,1305.3 1093.1,1305.7 1096.7,1304.9 1100.3,1301.6 1104.0,1297.9 1107.6,1296.5 1111.3,1298.3 1114.9,1301.2 1118.5,1302.8 1122.2,1303.1" fill="none" stroke="#3b6ff0" stroke-width="1" stroke-linejoin="round" opacity="0.20"/>
<polyline points="1122.8,1303.1 1126.4,1304.4 1130.1,1307.2 1133.7,1309.6" fill="none" stroke="#3b6ff0" stroke-width="1" stroke-linejoin="round" opacity="0.19"/>
<polyline points="1136.8,1309.4 1140.4,1306.7 1144.1,1303.7 1147.7,1303.1 1151.4,1304.6 1155.0,1305.9" fill="none" stroke="#3b6ff0" stroke-width="1" stroke-linejoin="round" opacity="0.22"/>
<polyline points="1159.3,1305.7 1162.9,1305.6 1166.6,1307.6 1170.2,1311.1" fill="none" stroke="#3b6ff0" stroke-width="1" stroke-linejoin="round" opacity="0.12"/>
<polyline points="1177.3,1312.0 1181.0,1308.6 1184.6,1305.8 1188.2,1304.9 1191.9,1304.4" fill="none" stroke="#3b6ff0" stroke-width="1" stroke-linejoin="round" opacity="0.08"/>
<polyline points="1193.2,1304.0 1196.8,1301.7 1200.4,1299.3 1204.1,1299.2 1207.7,1301.9 1211.4,1305.2" fill="none" stroke="#3b6ff0" stroke-width="1" stroke-linejoin="round" opacity="0.21"/>
<polyline points="1217.2,1305.6 1220.8,1303.9 1224.5,1303.3 1228.1,1303.9 1231.8,1303.7 1235.4,1301.4 1239.0,1298.6 1242.7,1298.1" fill="none" stroke="#3b6ff0" stroke-width="1" stroke-linejoin="round" opacity="0.19"/>
<polyline points="1246.7,1301.1 1250.3,1304.9 1253.9,1307.0 1257.6,1307.4 1261.2,1308.0 1264.9,1310.0 1268.5,1311.8 1272.1,1311.2 1275.8,1307.9" fill="none" stroke="#3b6ff0" stroke-width="1" stroke-linejoin="round" opacity="0.10"/>
<polyline points="1279.6,1304.4 1283.2,1303.6 1286.9,1305.1 1290.5,1306.3 1294.1,1306.1 1297.8,1305.5 1301.4,1306.5 1305.1,1309.0 1308.7,1310.5" fill="none" stroke="#3b6ff0" stroke-width="1" stroke-linejoin="round" opacity="0.17"/>
<polyline points="1316.0,1304.8 1319.7,1301.5 1323.3,1300.6 1327.0,1300.7 1330.6,1300.0 1334.2,1298.4" fill="none" stroke="#3b6ff0" stroke-width="1" stroke-linejoin="round" opacity="0.18"/>
<polyline points="1342.3,1301.3 1345.9,1305.3 1349.6,1307.3 1353.2,1306.4 1356.9,1304.8 1360.5,1304.4 1364.1,1305.2 1367.8,1305.1" fill="none" stroke="#3b6ff0" stroke-width="1" stroke-linejoin="round" opacity="0.10"/>
<polyline points="1374.5,1301.4 1378.2,1301.6 1381.8,1304.8 1385.5,1308.7 1389.1,1310.7 1392.7,1310.4 1396.4,1309.9 1400.0,1310.6 1403.7,1311.3 1407.3,1309.9" fill="none" stroke="#3b6ff0" stroke-width="1" stroke-linejoin="round" opacity="0.19"/>
<polyline points="1413.7,1302.9 1417.4,1301.0 1421.0,1302.1 1424.7,1303.9 1428.3,1304.3 1431.9,1303.6 1435.6,1303.7" fill="none" stroke="#3b6ff0" stroke-width="1" stroke-linejoin="round" opacity="0.18"/>
<polyline points="1442.2,1307.1 1445.8,1307.0 1449.4,1303.9 1453.1,1300.1 1456.7,1298.5" fill="none" stroke="#3b6ff0" stroke-width="1" stroke-linejoin="round" opacity="0.17"/>
<polyline points="1465.0,1300.6 1468.6,1300.3 1472.3,1300.4 1475.9,1302.8 1479.6,1307.0 1483.2,1310.2 1486.8,1310.3 1490.5,1308.2 1494.1,1306.6 1497.8,1306.7 1501.4,1307.2 1505.0,1306.1" fill="none" stroke="#3b6ff0" stroke-width="1" stroke-linejoin="round" opacity="0.22"/>
<polyline points="1511.1,1303.1 1514.8,1304.3 1518.4,1307.8 1522.0,1310.7 1525.7,1311.0 1529.3,1309.2 1533.0,1307.9 1536.6,1307.7 1540.2,1307.3 1543.9,1304.6" fill="none" stroke="#3b6ff0" stroke-width="1" stroke-linejoin="round" opacity="0.09"/>
<polyline points="1547.0,1301.1 1550.6,1298.0 1554.3,1298.1 1557.9,1300.6 1561.6,1302.8 1565.2,1303.1 1568.8,1302.8 1572.5,1303.7" fill="none" stroke="#3b6ff0" stroke-width="1" stroke-linejoin="round" opacity="0.16"/>
<polyline points="1574.1,1304.7 1577.8,1306.7 1581.4,1306.4 1585.0,1303.6" fill="none" stroke="#3b6ff0" stroke-width="1" stroke-linejoin="round" opacity="0.18"/>
<polyline points="1587.6,1301.2 1591.2,1299.6 1594.9,1300.8 1598.5,1303.1 1602.2,1304.3 1605.8,1304.4 1609.4,1305.6 1613.1,1308.9 1616.7,1312.3 1620.4,1313.2 1624.0,1311.0" fill="none" stroke="#3b6ff0" stroke-width="1" stroke-linejoin="round" opacity="0.11"/>
<polyline points="1631.6,1306.2 1635.2,1306.3 1638.9,1305.8 1642.5,1303.9 1646.2,1302.2 1649.8,1303.0 1653.4,1306.1 1657.1,1308.7 1660.7,1308.6 1664.4,1306.3" fill="none" stroke="#3b6ff0" stroke-width="1" stroke-linejoin="round" opacity="0.18"/>
<polyline points="1667.0,1304.6 1670.6,1303.6 1674.2,1303.5 1677.9,1302.2 1681.5,1299.2 1685.2,1296.6 1688.8,1297.1 1692.4,1300.3 1696.1,1303.8 1699.7,1305.3 1703.4,1305.2 1707.0,1305.7" fill="none" stroke="#3b6ff0" stroke-width="1" stroke-linejoin="round" opacity="0.15"/>
<polyline points="1713.9,1308.9 1717.5,1308.0 1721.1,1304.9 1724.8,1302.3 1728.4,1302.5 1732.1,1305.0 1735.7,1307.1 1739.3,1307.6 1743.0,1307.6 1746.6,1309.0 1750.3,1311.6" fill="none" stroke="#3b6ff0" stroke-width="1" stroke-linejoin="round" opacity="0.18"/>
<polyline points="1755.3,1312.5 1758.9,1309.4 1762.6,1305.2" fill="none" stroke="#3b6ff0" stroke-width="1" stroke-linejoin="round" opacity="0.13"/>
<polyline points="1041.9,1247.3 1045.5,1242.7 1049.2,1240.0 1052.8,1240.1 1056.4,1239.5 1060.1,1236.9 1063.7,1235.8 1067.4,1238.6" fill="none" stroke="#3b6ff0" stroke-width="1" stroke-linejoin="round" opacity="0.04"/>
<polyline points="1072.8,1243.1 1076.4,1241.5 1080.0,1239.1 1083.7,1238.9 1087.3,1238.9 1091.0,1235.8 1094.6,1231.5 1098.2,1230.8" fill="none" stroke="#3b6ff0" stroke-width="1" stroke-linejoin="round" opacity="0.06"/>
<polyline points="1100.1,1232.1 1103.7,1235.9 1107.4,1237.6 1111.0,1237.8 1114.6,1240.1" fill="none" stroke="#3b6ff0" stroke-width="1" stroke-linejoin="round" opacity="0.08"/>
<polyline points="1120.4,1245.5 1124.1,1244.1 1127.7,1240.3 1131.4,1238.9 1135.0,1240.2 1138.6,1240.5 1142.3,1238.9 1145.9,1239.0 1149.6,1243.0 1153.2,1247.0 1156.8,1247.1 1160.5,1244.5" fill="none" stroke="#3b6ff0" stroke-width="1" stroke-linejoin="round" opacity="0.04"/>
<polyline points="1165.0,1243.3 1168.6,1243.2 1172.2,1240.1 1175.9,1235.1 1179.5,1232.9 1183.2,1235.0 1186.8,1237.4 1190.4,1237.3" fill="none" stroke="#3b6ff0" stroke-width="1" stroke-linejoin="round" opacity="0.07"/>
<polyline points="1192.2,1236.9 1195.8,1237.6 1199.4,1240.6 1203.1,1241.9 1206.7,1238.9 1210.4,1234.9" fill="none" stroke="#3b6ff0" stroke-width="1" stroke-linejoin="round" opacity="0.09"/>
<polyline points="1217.9,1235.7 1221.5,1235.7 1225.1,1234.7 1228.8,1236.6 1232.4,1242.0 1236.1,1246.0 1239.7,1245.7 1243.3,1244.1" fill="none" stroke="#3b6ff0" stroke-width="1" stroke-linejoin="round" opacity="0.04"/>
<polyline points="1246.8,1244.4 1250.5,1245.1 1254.1,1242.8 1257.8,1238.6 1261.4,1237.1 1265.0,1239.7 1268.7,1242.4 1272.3,1242.2" fill="none" stroke="#3b6ff0" stroke-width="1" stroke-linejoin="round" opacity="0.09"/>
<polyline points="1274.4,1241.6 1278.0,1242.2 1281.7,1244.6 1285.3,1244.5 1289.0,1240.2 1292.6,1235.5 1296.2,1234.2" fill="none" stroke="#3b6ff0" stroke-width="1" stroke-linejoin="round" opacity="0.05"/>
<polyline points="1304.7,1233.1 1308.4,1232.1 1312.0,1235.0 1315.7,1239.9 1319.3,1241.8" fill="none" stroke="#3b6ff0" stroke-width="1" stroke-linejoin="round" opacity="0.07"/>
<polyline points="1325.1,1239.3 1328.7,1239.7 1332.3,1240.7 1336.0,1239.0 1339.6,1235.6" fill="none" stroke="#3b6ff0" stroke-width="1" stroke-linejoin="round" opacity="0.09"/>
<polyline points="1348.2,1240.4 1351.8,1243.1 1355.5,1243.3 1359.1,1244.2 1362.7,1247.2 1366.4,1248.6 1370.0,1245.5" fill="none" stroke="#3b6ff0" stroke-width="1" stroke-linejoin="round" opacity="0.05"/>
<polyline points="1374.7,1239.7 1378.4,1238.8 1382.0,1239.3 1385.7,1237.9 1389.3,1235.9 1392.9,1237.1 1396.6,1241.1 1400.2,1243.1" fill="none" stroke="#3b6ff0" stroke-width="1" stroke-linejoin="round" opacity="0.08"/>
<polyline points="1403.2,1241.6 1406.8,1238.6 1410.5,1237.9 1414.1,1238.1 1417.8,1235.6 1421.4,1231.6 1425.0,1230.7 1428.7,1234.2 1432.3,1238.0 1436.0,1238.9" fill="none" stroke="#3b6ff0" stroke-width="1" stroke-linejoin="round" opacity="0.09"/>
<polyline points="1442.1,1241.3 1445.7,1244.8 1449.4,1245.5 1453.0,1242.1 1456.7,1238.8 1460.3,1239.1 1463.9,1240.7 1467.6,1240.2 1471.2,1239.1" fill="none" stroke="#3b6ff0" stroke-width="1" stroke-linejoin="round" opacity="0.09"/>
<polyline points="1481.2,1247.7 1484.9,1246.5 1488.5,1243.3 1492.1,1242.2 1495.8,1241.9 1499.4,1238.9" fill="none" stroke="#3b6ff0" stroke-width="1" stroke-linejoin="round" opacity="0.04"/>
<polyline points="1502.6,1234.7 1506.3,1232.3 1509.9,1234.4 1513.6,1237.5 1517.2,1237.9 1520.8,1237.3 1524.5,1238.9 1528.1,1241.5 1531.8,1240.8 1535.4,1236.7 1539.0,1233.7" fill="none" stroke="#3b6ff0" stroke-width="1" stroke-linejoin="round" opacity="0.05"/>
<polyline points="1546.3,1236.3 1549.9,1236.1 1553.5,1236.0 1557.2,1239.4 1560.8,1244.8 1564.5,1247.2" fill="none" stroke="#3b6ff0" stroke-width="1" stroke-linejoin="round" opacity="0.07"/>
<polyline points="1567.9,1245.6 1571.5,1243.8 1575.2,1244.2 1578.8,1244.1 1582.5,1240.9 1586.1,1237.3" fill="none" stroke="#3b6ff0" stroke-width="1" stroke-linejoin="round" opacity="0.04"/>
<polyline points="1593.3,1240.8 1596.9,1242.9 1600.5,1242.1 1604.2,1241.7 1607.8,1243.4 1611.5,1244.2 1615.1,1240.7 1618.7,1235.4 1622.4,1233.1 1626.0,1234.0 1629.7,1234.2" fill="none" stroke="#3b6ff0" stroke-width="1" stroke-linejoin="round" opacity="0.06"/>
<polyline points="1635.3,1232.7 1638.9,1235.4 1642.5,1240.3 1646.2,1242.5 1649.8,1240.8 1653.5,1239.1 1657.1,1239.9 1660.7,1240.4 1664.4,1237.9" fill="none" stroke="#3b6ff0" stroke-width="1" stroke-linejoin="round" opacity="0.07"/>
<polyline points="1669.7,1235.4 1673.4,1238.7 1677.0,1243.1 1680.6,1244.4 1684.3,1244.2 1687.9,1245.7" fill="none" stroke="#3b6ff0" stroke-width="1" stroke-linejoin="round" opacity="0.05"/>
<polyline points="1697.4,1244.4 1701.0,1239.4 1704.7,1237.7 1708.3,1238.6 1711.9,1238.2 1715.6,1236.2 1719.2,1236.6" fill="none" stroke="#3b6ff0" stroke-width="1" stroke-linejoin="round" opacity="0.07"/>
<polyline points="1724.8,1242.1 1728.4,1242.7 1732.0,1239.7 1735.7,1237.2 1739.3,1237.2" fill="none" stroke="#3b6ff0" stroke-width="1" stroke-linejoin="round" opacity="0.09"/>
<polyline points="1749.7,1230.9 1753.4,1232.0 1757.0,1236.6 1760.7,1239.8 1764.3,1240.2" fill="none" stroke="#3b6ff0" stroke-width="1" stroke-linejoin="round" opacity="0.10"/>
<polyline points="1097.99,1035.26 1104.06,1030.97 1109.21,1030.49 1117.7,1035.73" fill="none" stroke="#3b86f0" stroke-width="1" stroke-linejoin="round" opacity="0.45"/>
<polyline points="1196.56,1030.97 1204.14,1026.2 1210.21,1027.16 1216.27,1030.97" fill="none" stroke="#3b86f0" stroke-width="1" stroke-linejoin="round" opacity="0.5"/>
<line x1="1204.14" y1="1026.2" x2="1207.17" y2="1026.68" stroke="#38c6d8" stroke-width="1.2" opacity="0.9"/>
<polyline points="1334.56,1034.78 1340.62,1025.25 1345.17,1025.25 1351.24,1022.87" fill="none" stroke="#3b86f0" stroke-width="1" stroke-linejoin="round" opacity="0.3"/>
<polyline points="1436.16,1035.73 1442.22,1038.59 1449.81,1040.5" fill="none" stroke="#3b86f0" stroke-width="1" stroke-linejoin="round" opacity="0.3"/>
<polyline points="1469.52,1042.4 1475.59,1040.5 1483.17,1041.45 1490.75,1045.26" fill="none" stroke="#3b86f0" stroke-width="1" stroke-linejoin="round" opacity="0.5"/>
<line x1="1475.59" y1="1040.5" x2="1479.38" y2="1040.97" stroke="#38c6d8" stroke-width="1.2" opacity="0.9"/>
<polyline points="1572.64,1029.06 1584.77,1028.11 1592.35,1025.25" fill="none" stroke="#3b86f0" stroke-width="1" stroke-linejoin="round" opacity="0.6"/>
<line x1="1584.77" y1="1028.11" x2="1588.56" y2="1026.68" stroke="#38c6d8" stroke-width="1.2" opacity="0.9"/>
<polyline points="1703.05,1034.78 1710.64,1030.01 1718.22,1032.87 1724.28,1036.69" fill="none" stroke="#3b86f0" stroke-width="1" stroke-linejoin="round" opacity="0.4"/>
<polyline points="1097.99,1091.96 1104.06,1095.77 1113.15,1096.25 1120.74,1099.58" fill="none" stroke="#3b86f0" stroke-width="1" stroke-linejoin="round" opacity="0.5"/>
<line x1="1104.06" y1="1095.77" x2="1108.61" y2="1096.01" stroke="#38c6d8" stroke-width="1.2" opacity="0.9"/>
<polyline points="1202.63,1103.4 1208.69,1097.68 1214.76,1092.91 1220.82,1089.1" fill="none" stroke="#3b86f0" stroke-width="1" stroke-linejoin="round" opacity="0.35"/>
<polyline points="1337.59,1097.2 1348.2,1095.77 1357.3,1096.25" fill="none" stroke="#3b86f0" stroke-width="1" stroke-linejoin="round" opacity="0.4"/>
<polyline points="1437.68,1101.49 1443.74,1094.82 1448.29,1089.1" fill="none" stroke="#3b86f0" stroke-width="1" stroke-linejoin="round" opacity="0.25"/>
<polyline points="1574.16,1101.49 1581.74,1097.2 1587.8,1092.91" fill="none" stroke="#3b86f0" stroke-width="1" stroke-linejoin="round" opacity="0.4"/>
<polyline points="1706.09,1095.77 1712.76,1098.63 1719.74,1094.82 1724.28,1095.77" fill="none" stroke="#3b86f0" stroke-width="1" stroke-linejoin="round" opacity="0.5"/>
<line x1="1712.76" y1="1098.63" x2="1716.25" y2="1096.72" stroke="#38c6d8" stroke-width="1.2" opacity="0.9"/>
<polyline points="1099.51,1301.62 1111.64,1305.43 1123.77,1301.62 1135.9,1307.34 1160.16,1305.43 1181.39,1301.62" fill="none" stroke="#3b86f0" stroke-width="1" stroke-linejoin="round" opacity="0.23"/>
<polyline points="1336.07,1299.71 1345.17,1304.48 1357.3,1305.43 1366.4,1301.62" fill="none" stroke="#3b86f0" stroke-width="1" stroke-linejoin="round" opacity="0.25"/>
<polyline points="1569.61,1302.57 1584.77,1301.62 1599.94,1299.71" fill="none" stroke="#3b86f0" stroke-width="1" stroke-linejoin="round" opacity="0.17"/>
</g>
<line class="wl" x1="1092.8" y1="924.8" x2="1092.8" y2="1015.4"/>
<line class="wl" x1="1203.7" y1="921.2" x2="1203.7" y2="1012"/>
<line class="wl" x1="1341.2" y1="918.1" x2="1341.2" y2="1008.9"/>
<line class="wl" x1="1473.3" y1="923.1" x2="1473.3" y2="1013.7"/>
<line class="wl" x1="1580.7" y1="916.4" x2="1580.7" y2="1006.8"/>
<line class="wl" x1="1706.3" y1="916.4" x2="1706.3" y2="1006.8"/>
<text class="lt" transform="translate(1093.5 902.5) scale(1 1.04)" text-anchor="middle">A</text>
<text class="lt" transform="translate(1204 900.8) scale(1 1.04)" text-anchor="middle">B</text>
<text class="lt" transform="translate(1339.1 901.5) scale(1 1.04)" text-anchor="middle">C</text>
<text class="lt" transform="translate(1475.4 905) scale(1 1.04)" text-anchor="middle">D</text>
<text class="lt" transform="translate(1581.9 901) scale(1 1.04)" text-anchor="middle">E</text>
<text class="lt" transform="translate(1709.8 901) scale(1 1.04)" text-anchor="middle">F</text>
<path class="tc" d="M1190.49 1358.8V1350.2M1190.49 787V795.6M1342.14 1358.8V1350.2M1342.14 787V795.6M1493.78 1358.8V1350.2M1493.78 787V795.6M1645.43 1358.8V1350.2M1645.43 787V795.6M1039 1358.8H1047.6M1767.2 1358.8H1758.6M1039 1263.5H1047.6M1767.2 1263.5H1758.6M1039 1168.2H1047.6M1767.2 1168.2H1758.6M1039 1072.9H1047.6M1767.2 1072.9H1758.6M1039 977.6H1047.6M1767.2 977.6H1758.6M1039 882.3H1047.6M1767.2 882.3H1758.6M1039 787H1047.6M1767.2 787H1758.6"/>
<rect class="fr" x="1039" y="787" width="728.2" height="571.8"/>
<text class="tk" transform="translate(1190.49 1391.9) scale(1 1.04)" text-anchor="middle">500</text>
<text class="tk" transform="translate(1342.14 1391.9) scale(1 1.04)" text-anchor="middle">1000</text>
<text class="tk" transform="translate(1493.78 1391.9) scale(1 1.04)" text-anchor="middle">1500</text>
<text class="tk" transform="translate(1645.43 1391.9) scale(1 1.04)" text-anchor="middle">2000</text>
<text class="tk" transform="translate(1029.7 1368.9) scale(1 1.04)" text-anchor="end">0</text>
<text class="tk" transform="translate(1029.7 1273.6) scale(1 1.04)" text-anchor="end">1000</text>
<text class="tk" transform="translate(1029.7 1178.3) scale(1 1.04)" text-anchor="end">2000</text>
<text class="tk" transform="translate(1029.7 1083) scale(1 1.04)" text-anchor="end">3000</text>
<text class="tk" transform="translate(1029.7 987.7) scale(1 1.04)" text-anchor="end">4000</text>
<text class="tk" transform="translate(1029.7 892.4) scale(1 1.04)" text-anchor="end">5000</text>
<text class="tk" transform="translate(1029.7 797.1) scale(1 1.04)" text-anchor="end">6000</text>
<text class="lb" transform="translate(1402.6 1426.4) scale(1 1.02)" text-anchor="middle">Time / S</text>
<text class="lb" transform="translate(967.2 1072.9) rotate(-90) scale(1 1.02)" text-anchor="middle">Frequency(Hz)</text>
<text class="tt" style="font-size:35.78px" transform="translate(1402.6 772) scale(1 1.02)" text-anchor="middle">TFR employing the 8th order FMSST</text>
<text class="pn" transform="translate(937.4 777.5) scale(1 1.02)">(j)</text>
</g>
</svg>
</body>
</html>
